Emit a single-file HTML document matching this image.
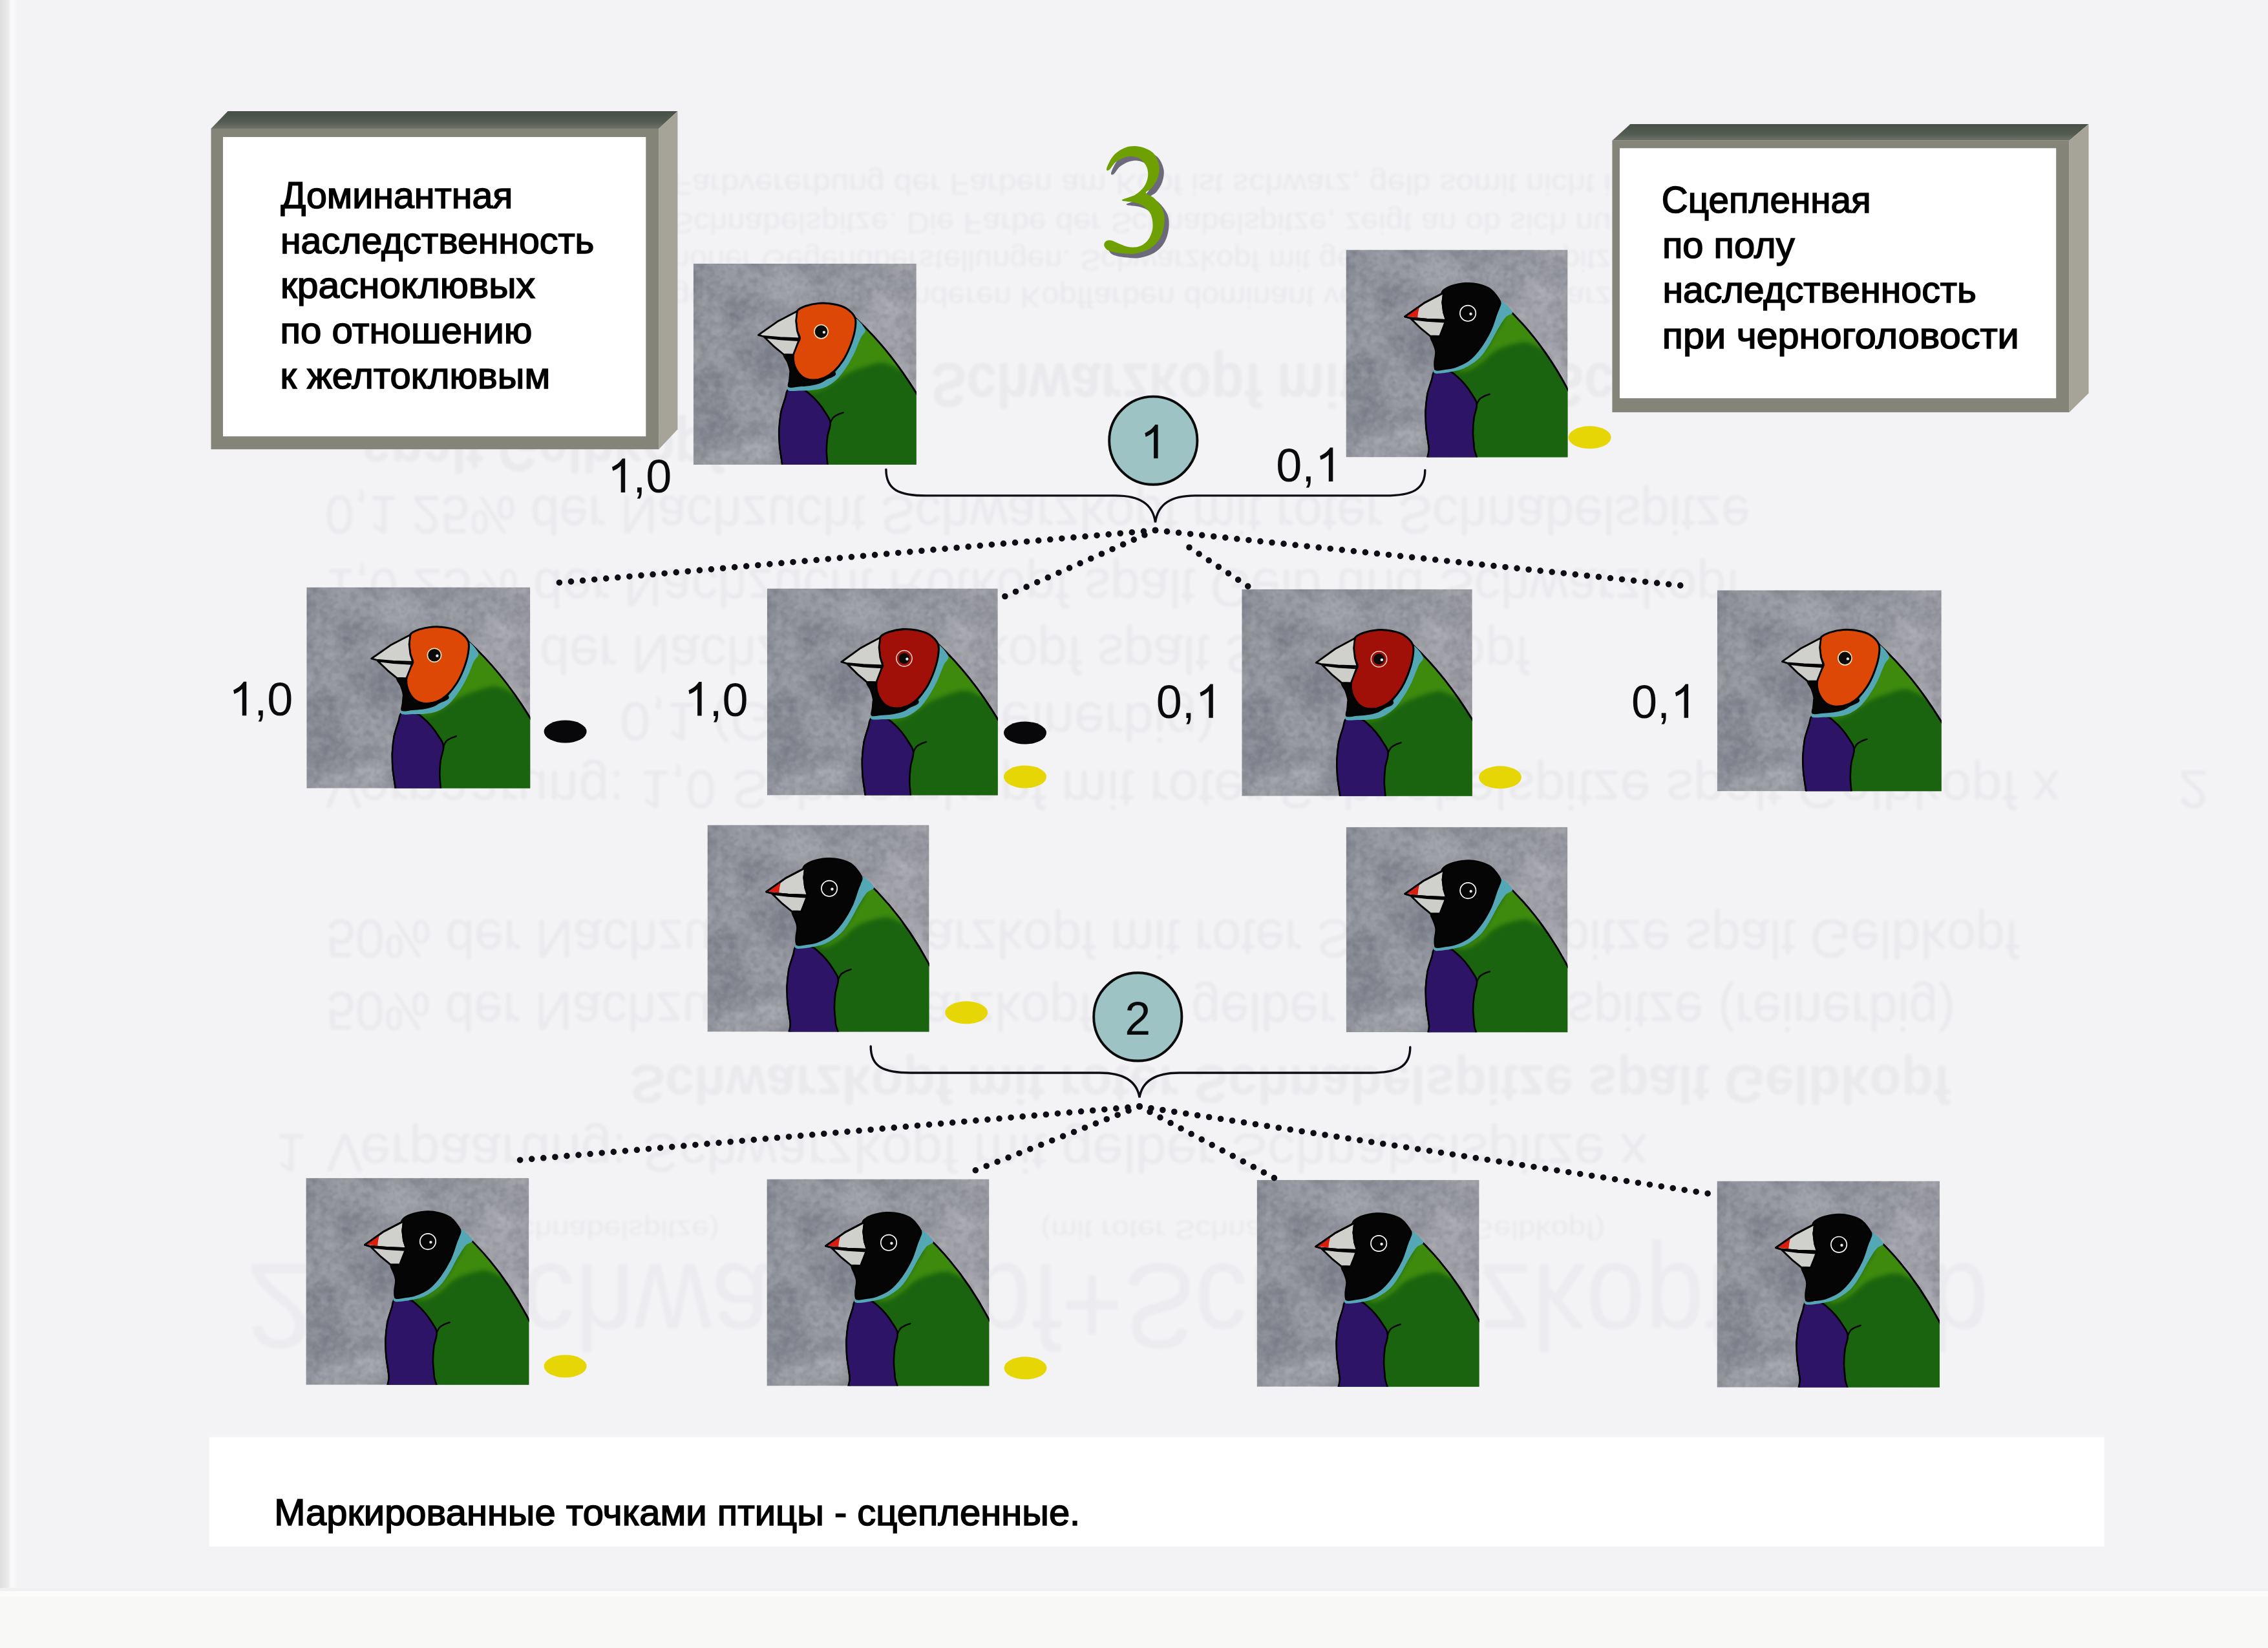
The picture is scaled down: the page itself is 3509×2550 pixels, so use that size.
<!DOCTYPE html>
<html><head><meta charset="utf-8"><title>3</title>
<style>html,body{margin:0;padding:0;background:#f3f3f6}body{width:3509px;height:2550px;overflow:hidden;position:relative}svg{position:absolute;left:0;top:0;display:block}text{font-family:"Liberation Sans",sans-serif}</style></head><body>
<svg width="3509" height="2550" viewBox="0 0 3509 2550">
<defs>
<filter id="mottle" x="0" y="0" width="100%" height="100%" color-interpolation-filters="sRGB"><feTurbulence type="fractalNoise" baseFrequency="0.012" numOctaves="2" seed="5" result="big"/><feColorMatrix in="big" type="matrix" values="0 0 0 0 1  0 0 0 0 1  0 0 0 0 1  0.4 0.4 0 0 -0.35" result="bl"/><feColorMatrix in="big" type="matrix" values="0 0 0 0 0.25  0 0 0 0 0.26  0 0 0 0 0.34  -0.4 0 -0.4 0 0.42" result="bd"/><feTurbulence type="fractalNoise" baseFrequency="0.09" numOctaves="2" seed="11" result="n"/><feColorMatrix in="n" type="matrix" values="0 0 0 0 0.85  0 0 0 0 0.85  0 0 0 0 0.9  0.25 0.25 0 0 -0.22" result="a"/><feColorMatrix in="n" type="matrix" values="0 0 0 0 0.3  0 0 0 0 0.3  0 0 0 0 0.36  -0.28 0 -0.28 0 0.3" result="d"/><feMerge><feMergeNode in="SourceGraphic"/><feMergeNode in="bl"/><feMergeNode in="bd"/><feMergeNode in="a"/><feMergeNode in="d"/></feMerge></filter>
<filter id="soft" x="-10%" y="-10%" width="120%" height="120%"><feGaussianBlur stdDeviation="3.5"/></filter>
<filter id="ghost" x="-5%" y="-20%" width="110%" height="140%"><feGaussianBlur stdDeviation="2"/></filter>
<linearGradient id="edgeL" x1="0" x2="1" y1="0" y2="0"><stop offset="0" stop-color="#dedede"/><stop offset="0.5" stop-color="#ececec"/><stop offset="0.62" stop-color="#f9f9f9"/><stop offset="0.8" stop-color="#f9f9fa"/><stop offset="1" stop-color="#f3f3f6"/></linearGradient>
<linearGradient id="bev" x1="0" x2="0" y1="0" y2="1"><stop offset="0" stop-color="#465048"/><stop offset="0.6" stop-color="#525c50"/><stop offset="1" stop-color="#6e7268"/></linearGradient>
<linearGradient id="gbg" x1="0" y1="0.1" x2="1" y2="0.5"><stop offset="0" stop-color="#7f828c"/><stop offset="0.45" stop-color="#8c8e97"/><stop offset="1" stop-color="#9b9ca3"/></linearGradient>
</defs>
<rect width="3509" height="2550" fill="#f3f3f6"/>
<rect x="0" y="0" width="26" height="2550" fill="url(#edgeL)"/>
<rect x="0" y="2460" width="3509" height="90" fill="#f8f8f7"/>
<rect x="0" y="2457" width="3509" height="5" fill="#f0f0f0"/>
<rect x="0" y="2462" width="3509" height="9" fill="#fbfbfb"/>
<g fill="#1a1a2a" opacity="0.042" filter="url(#ghost)">
<text transform="translate(1040,268.6) scale(1,-1)" font-size="47" textLength="1480" lengthAdjust="spacingAndGlyphs">Farbvererbung der Farben am Kopf ist schwarz, gelb somit nicht in</text>
<text transform="translate(1040,328.6) scale(1,-1)" font-size="47" textLength="1480" lengthAdjust="spacingAndGlyphs">Schnabelspitze. Die Farbe der Schnabelspitze, zeigt an ob sich nun</text>
<text transform="translate(1040,386.6) scale(1,-1)" font-size="47" textLength="1480" lengthAdjust="spacingAndGlyphs">hoher Gegenüberstellungen. Schwarzkopf mit gelber Schnabelspitze</text>
<text transform="translate(1040,443.6) scale(1,-1)" font-size="47" textLength="1480" lengthAdjust="spacingAndGlyphs">gegenüber den anderen Kopffarben dominant vererbt, der schwarze</text>
<text transform="translate(1440,562.4) scale(1,-1)" font-size="96" font-weight="bold" textLength="1560" lengthAdjust="spacingAndGlyphs">Schwarzkopf mit gelber Schnabelspitze</text>
<text transform="translate(560,662.4) scale(1,-1)" font-size="96" font-weight="bold" textLength="560" lengthAdjust="spacingAndGlyphs">spalt Gelbkopf</text>
<text transform="translate(503,767.6) scale(1,-1)" font-size="84" textLength="2205" lengthAdjust="spacingAndGlyphs">0,1 25% der Nachzucht Schwarzkopf mit roter Schnabelspitze</text>
<text transform="translate(503,880.6) scale(1,-1)" font-size="84" textLength="2190" lengthAdjust="spacingAndGlyphs">1,0 25% der Nachzucht Rotkopf spalt Gelb und Schwarzkopf</text>
<text transform="translate(835,983.6) scale(1,-1)" font-size="84" textLength="1532" lengthAdjust="spacingAndGlyphs">der Nachzucht Rotkopf spalt Schwarzkopf</text>
<text transform="translate(959,1087.6) scale(1,-1)" font-size="84" textLength="921" lengthAdjust="spacingAndGlyphs">0,1 (Gelbkopf, reinerbig)</text>
<text transform="translate(503,1192.6) scale(1,-1)" font-size="84" textLength="2684" lengthAdjust="spacingAndGlyphs">Verpaarung: 1,0 Schwarzkopf mit roter Schnabelspitze spalt Gelbkopf x</text>
<text transform="translate(3370,1192.6) scale(1,-1)" font-size="84">2</text>
<text transform="translate(505,1423.6) scale(1,-1)" font-size="84" textLength="2619" lengthAdjust="spacingAndGlyphs">50% der Nachzucht Schwarzkopf mit roter Schnabelspitze spalt Gelbkopf</text>
<text transform="translate(505,1535.6) scale(1,-1)" font-size="84" textLength="2520" lengthAdjust="spacingAndGlyphs">50% der Nachzucht Schwarzkopf mit gelber Schnabelspitze (reinerbig)</text>
<text transform="translate(975,1648.6) scale(1,-1)" font-size="84" font-weight="bold" textLength="2043" lengthAdjust="spacingAndGlyphs">Schwarzkopf mit roter Schnabelspitze spalt Gelbkopf</text>
<text transform="translate(426,1754.6) scale(1,-1)" font-size="84">1</text>
<text transform="translate(505,1754.6) scale(1,-1)" font-size="84" textLength="2044" lengthAdjust="spacingAndGlyphs">Verpaarung: Schwarzkopf mit gelber Schnabelspitze x</text>
<text transform="translate(531,1888.3) scale(1,-1)" font-size="42" textLength="582" lengthAdjust="spacingAndGlyphs">(mit gelber Schnabelspitze)</text>
<text transform="translate(1610,1888.3) scale(1,-1)" font-size="42" textLength="873" lengthAdjust="spacingAndGlyphs">(mit roter Schnabelspitze spalt Gelbkopf)</text>
</g>
<g fill="#1a1a2a" opacity="0.03" filter="url(#ghost)">
<text transform="translate(380,1956.2) scale(1,-1)" font-size="188">2</text>
<text transform="translate(697,1956.2) scale(1,-1)" font-size="188" textLength="2380" lengthAdjust="spacingAndGlyphs">Schwarzkopf+Schwarzkopf Gelb</text>
</g>
<rect x="323.7" y="2223.8" width="2932" height="169" fill="#ffffff"/>
<path d="M326.5,199 L352.5,172 L1048.4,172 L1019.3,199Z" fill="url(#bev)"/>
<path d="M1019.3,199 L1048.4,172 L1048.4,664.3 L1019.3,695.2Z" fill="#a6a498"/>
<rect x="326.5" y="199" width="692.8" height="496.20000000000005" fill="#848478"/>
<rect x="345" y="212" width="654.3" height="463.20000000000005" fill="#ffffff"/>
<path d="M2494.4,217.4 L2522.4,192 L3231.5,192 L3201.5,217.4Z" fill="url(#bev)"/>
<path d="M3201.5,217.4 L3231.5,192 L3231.5,608.6 L3201.5,637.9Z" fill="#a6a498"/>
<rect x="2494.4" y="217.4" width="707.0999999999999" height="420.5" fill="#848478"/>
<rect x="2506" y="229.3" width="675.1999999999998" height="386.90000000000003" fill="#ffffff"/>
<text x="434.4" y="322" font-size="57" font-weight="normal" textLength="359" lengthAdjust="spacingAndGlyphs" fill="#000" stroke="#000" stroke-width="1.6" stroke-linejoin="miter">Доминантная</text>
<text x="434" y="391.5" font-size="57" font-weight="normal" textLength="485.4" lengthAdjust="spacingAndGlyphs" fill="#000" stroke="#000" stroke-width="1.6" stroke-linejoin="miter">наследственность</text>
<text x="434" y="461.1" font-size="57" font-weight="normal" textLength="394" lengthAdjust="spacingAndGlyphs" fill="#000" stroke="#000" stroke-width="1.6" stroke-linejoin="miter">красноклювых</text>
<text x="433.5" y="531" font-size="57" font-weight="normal" textLength="390" lengthAdjust="spacingAndGlyphs" fill="#000" stroke="#000" stroke-width="1.6" stroke-linejoin="miter">по отношению</text>
<text x="433.5" y="600.5" font-size="57" font-weight="normal" textLength="417.7" lengthAdjust="spacingAndGlyphs" fill="#000" stroke="#000" stroke-width="1.6" stroke-linejoin="miter">к желтоклювым</text>
<text x="2570.8" y="328.5" font-size="57" font-weight="normal" textLength="323.8" lengthAdjust="spacingAndGlyphs" fill="#000" stroke="#000" stroke-width="1.6" stroke-linejoin="miter">Сцепленная</text>
<text x="2571.9" y="398.6" font-size="57" font-weight="normal" textLength="204.7" lengthAdjust="spacingAndGlyphs" fill="#000" stroke="#000" stroke-width="1.6" stroke-linejoin="miter">по полу</text>
<text x="2572.4" y="468" font-size="57" font-weight="normal" textLength="485.4" lengthAdjust="spacingAndGlyphs" fill="#000" stroke="#000" stroke-width="1.6" stroke-linejoin="miter">наследственность</text>
<text x="2571.8" y="538.5" font-size="57" font-weight="normal" textLength="552" lengthAdjust="spacingAndGlyphs" fill="#000" stroke="#000" stroke-width="1.6" stroke-linejoin="miter">при черноголовости</text>
<text x="424.2" y="2360" font-size="57" font-weight="normal" textLength="1247" lengthAdjust="spacingAndGlyphs" fill="#000" stroke="#000" stroke-width="1.6" stroke-linejoin="miter">Маркированные точками птицы - сцепленные.</text>
<g transform="translate(1650,180)"><path d="M62.2,80.4 C63.3,76.7 68.0,66.0 72.8,60.7 C77.6,55.4 84.4,50.9 91.0,48.5 C97.6,46.2 105.2,45.5 112.3,46.7 C119.3,48.0 128.3,51.3 133.5,56.1 C138.7,61.0 142.1,69.3 143.4,75.8 C144.6,82.4 143.0,89.8 141.1,95.6 C139.2,101.4 135.0,106.9 132.0,110.7 C128.9,114.6 122.1,115.8 122.9,118.6 C123.6,121.4 132.1,122.9 136.5,127.4 C141.0,131.9 147.0,139.1 149.4,145.6 C151.9,152.2 152.1,159.5 151.2,166.9 C150.4,174.2 147.8,183.3 144.1,189.6 C140.4,195.9 135.3,201.0 128.9,204.8 C122.6,208.6 113.8,211.2 106.2,212.4 C98.6,213.5 90.3,212.5 83.4,211.8 C76.6,211.0 69.4,209.7 65.2,207.8 C61.1,205.9 59.2,202.6 58.4,200.2 C57.6,197.8 58.9,194.8 60.7,193.4 C62.4,192.0 65.5,191.3 69.0,191.9 C72.6,192.5 77.0,195.4 81.9,197.2 C86.8,199.0 93.0,202.0 98.6,202.5 C104.2,203.0 110.5,202.4 115.3,200.2 C120.1,198.1 124.4,194.4 127.4,189.6 C130.5,184.8 133.0,177.7 133.5,171.4 C134.0,165.1 132.7,157.0 130.5,151.7 C128.2,146.4 123.9,142.6 119.8,139.6 C115.8,136.5 111.9,135.1 106.2,133.5 C100.5,131.9 85.7,131.7 85.7,129.7 C85.7,127.7 100.5,124.8 106.2,121.4 C111.9,117.9 116.6,113.8 119.8,109.2 C123.1,104.7 125.2,99.1 125.9,94.1 C126.7,89.0 126.2,83.4 124.4,78.9 C122.6,74.3 118.8,69.5 115.3,66.7 C111.8,64.0 107.5,62.7 103.2,62.2 C98.9,61.7 94.1,62.2 89.5,63.7 C85.0,65.2 79.8,68.1 75.8,71.3 C71.9,74.5 68.3,81.6 66.0,83.1 C63.7,84.6 61.1,84.1 62.2,80.4Z" fill="#6c697d" transform="translate(7,6.5)"/><path d="M62.2,80.4 C63.3,76.7 68.0,66.0 72.8,60.7 C77.6,55.4 84.4,50.9 91.0,48.5 C97.6,46.2 105.2,45.5 112.3,46.7 C119.3,48.0 128.3,51.3 133.5,56.1 C138.7,61.0 142.1,69.3 143.4,75.8 C144.6,82.4 143.0,89.8 141.1,95.6 C139.2,101.4 135.0,106.9 132.0,110.7 C128.9,114.6 122.1,115.8 122.9,118.6 C123.6,121.4 132.1,122.9 136.5,127.4 C141.0,131.9 147.0,139.1 149.4,145.6 C151.9,152.2 152.1,159.5 151.2,166.9 C150.4,174.2 147.8,183.3 144.1,189.6 C140.4,195.9 135.3,201.0 128.9,204.8 C122.6,208.6 113.8,211.2 106.2,212.4 C98.6,213.5 90.3,212.5 83.4,211.8 C76.6,211.0 69.4,209.7 65.2,207.8 C61.1,205.9 59.2,202.6 58.4,200.2 C57.6,197.8 58.9,194.8 60.7,193.4 C62.4,192.0 65.5,191.3 69.0,191.9 C72.6,192.5 77.0,195.4 81.9,197.2 C86.8,199.0 93.0,202.0 98.6,202.5 C104.2,203.0 110.5,202.4 115.3,200.2 C120.1,198.1 124.4,194.4 127.4,189.6 C130.5,184.8 133.0,177.7 133.5,171.4 C134.0,165.1 132.7,157.0 130.5,151.7 C128.2,146.4 123.9,142.6 119.8,139.6 C115.8,136.5 111.9,135.1 106.2,133.5 C100.5,131.9 85.7,131.7 85.7,129.7 C85.7,127.7 100.5,124.8 106.2,121.4 C111.9,117.9 116.6,113.8 119.8,109.2 C123.1,104.7 125.2,99.1 125.9,94.1 C126.7,89.0 126.2,83.4 124.4,78.9 C122.6,74.3 118.8,69.5 115.3,66.7 C111.8,64.0 107.5,62.7 103.2,62.2 C98.9,61.7 94.1,62.2 89.5,63.7 C85.0,65.2 79.8,68.1 75.8,71.3 C71.9,74.5 68.3,81.6 66.0,83.1 C63.7,84.6 61.1,84.1 62.2,80.4Z" fill="#6ea002"/></g>
<g id="birds">
<clipPath id="c0"><rect x="0" y="0" width="345.0" height="311.0"/></clipPath>
<g transform="translate(1072.8,408.0)" clip-path="url(#c0)" stroke-linejoin="round" stroke-linecap="round">
<rect x="0" y="0" width="345.0" height="311.0" fill="url(#gbg)" filter="url(#mottle)"/>
<path transform="translate(0,0) scale(1.0,1.0)" d="M250.1,83.7 Q302.3,131.4 344.7,200.0 L429.5,337.2 L429.5,420 L139.8,420 L137.8,313.5 L133.5,282.9 L132.6,256.7 L135.4,230.5 L142.0,208.6 L147.5,194.2 L149.6,169.3 L195.5,125.6Z" fill="#1a6410" stroke="#000" stroke-width="2.6"/>
<clipPath id="b0"><path transform="translate(0,0) scale(1.0,1.0)" d="M250.1,83.7 Q302.3,131.4 344.7,200.0 L429.5,337.2 L429.5,420 L139.8,420 L137.8,313.5 L133.5,282.9 L132.6,256.7 L135.4,230.5 L142.0,208.6 L147.5,194.2 L149.6,169.3 L195.5,125.6Z"/></clipPath>
<g clip-path="url(#b0)"><path transform="translate(0,0) scale(1.0,1.0)" d="M254.5,68.8 C268.0,78.3 328.8,150.8 335.3,164.9 C341.9,179.1 306.2,154.2 293.8,153.6 C281.4,152.9 270.5,158.2 261.1,161.0 C251.6,163.8 243.6,167.2 237.0,170.4 C230.5,173.6 227.6,176.5 221.7,180.2 C215.9,184.0 208.3,189.9 202.1,192.9 C195.9,195.9 190.1,197.9 184.6,198.1 C179.1,198.4 167.5,195.8 169.3,194.6 C171.1,193.5 188.2,193.6 195.5,191.2 C202.8,188.7 207.5,184.6 213.0,180.2 C218.5,175.9 223.9,170.4 228.3,164.9 C232.7,159.5 235.9,154.0 239.2,147.5 C242.5,140.9 245.4,132.2 248.0,125.6 C250.5,119.1 253.4,117.6 254.5,108.1 C255.6,98.7 241.0,59.3 254.5,68.8Z" fill="#3e8a0c" filter="url(#soft)"/></g>
<path transform="translate(0,0) scale(1.0,1.0)" d="M250.1,83.7 Q302.3,131.4 344.7,200.0 L429.5,337.2" fill="none" stroke="#000" stroke-width="2.6"/>
<path transform="translate(0,0) scale(1.0,1.0)" d="M147.5,194.2 C142.9,196.5 144.0,202.6 142.0,208.6 C140.0,214.7 137.0,222.5 135.4,230.5 C133.9,238.5 132.9,248.0 132.6,256.7 C132.3,265.4 132.6,273.4 133.5,282.9 C134.4,292.4 136.8,303.3 137.8,313.5 C138.9,323.7 128.0,339.0 139.8,344.1 C151.6,349.2 197.3,349.2 208.6,344.1 C220.0,339.0 208.2,322.6 207.8,313.5 C207.3,304.4 206.0,297.1 206.0,289.5 C206.0,281.8 206.6,274.9 207.5,267.6 C208.5,260.3 212.5,252.0 211.9,245.8 C211.4,239.6 207.4,235.6 204.3,230.5 C201.2,225.4 197.3,219.9 193.3,215.2 C189.3,210.4 184.2,205.4 180.2,202.1 C176.2,198.7 174.8,196.4 169.3,195.1 C163.8,193.8 152.0,192.0 147.5,194.2Z" fill="#2e1466" stroke="#000" stroke-width="2.6"/>
<path transform="translate(0,0) scale(1.0,1.0)" d="M211.9,245.8 C212.6,244.5 214.5,240.1 216.3,238.1 C218.1,236.1 220.3,235.0 222.8,233.8 C225.4,232.5 230.1,231.0 231.6,230.5" fill="none" stroke="#000" stroke-width="2.4"/>
<path transform="translate(0,0) scale(1.0,1.0)" d="M265.9,102.0 C267.2,107.1 261.9,108.5 258.9,114.9 C255.9,121.3 251.9,132.6 248.0,140.5 C244.0,148.4 239.8,155.7 235.3,162.3 C230.7,168.9 226.1,175.3 220.6,180.2 C215.2,185.1 208.6,189.2 202.5,191.8 C196.4,194.4 190.1,195.0 184.2,195.7 C178.3,196.5 173.2,196.3 167.1,196.4 C161.0,196.5 150.7,197.6 147.5,196.4 C144.2,195.2 144.9,190.6 147.5,189.4 C150.0,188.2 156.6,189.3 162.8,189.0 C168.9,188.7 177.5,188.9 184.2,187.7 C190.8,186.4 197.1,184.1 202.5,181.3 C208.0,178.6 212.3,176.2 216.9,171.3 C221.6,166.4 226.4,158.7 230.5,151.8 C234.6,144.9 238.3,138.0 241.4,130.0 C244.5,122.0 247.5,111.3 249.0,103.8 C250.6,96.2 247.8,84.8 250.6,84.5 C253.4,84.3 264.5,97.0 265.9,102.0Z" fill="#54a8b6"/>
<path transform="translate(0,0) scale(1.0,1.0)" d="M139.8,140.5 C141.6,138.5 143.3,136.5 156.2,140.9 C169.1,145.3 209.4,160.8 217.4,167.1 C225.4,173.5 207.9,176.3 204.3,179.1 C200.6,182.0 199.5,182.7 195.5,184.2 C191.5,185.6 185.7,187.0 180.2,187.9 C174.8,188.7 168.2,189.0 162.8,189.4 C157.3,189.8 149.7,192.2 147.5,190.3 C145.2,188.4 148.8,181.9 149.2,178.0 C149.6,174.2 150.2,171.3 149.6,167.1 C149.1,162.9 147.4,157.4 145.7,152.9 C144.1,148.5 138.1,142.5 139.8,140.5Z" fill="#050505" stroke="#050505" stroke-width="2"/>
<path transform="translate(0,0) scale(1.0,1.0)" d="M160.6,73.2 C163.0,69.4 167.8,67.5 173.7,65.5 C179.5,63.5 188.2,61.6 195.5,61.2 C202.8,60.7 210.6,61.4 217.4,62.7 C224.1,64.0 230.5,65.3 235.9,68.8 C241.4,72.3 247.8,77.8 250.1,83.7 C252.4,89.5 251.0,96.4 249.7,103.8 C248.4,111.1 245.5,120.2 242.5,127.8 C239.5,135.4 235.8,143.2 231.6,149.6 C227.4,156.1 222.3,162.2 217.4,166.7 C212.5,171.2 207.5,174.5 202.1,176.7 C196.6,179.0 190.1,180.2 184.6,180.0 C179.1,179.8 173.7,178.4 169.3,175.4 C164.9,172.4 160.9,166.9 158.4,161.9 C155.9,156.9 154.6,150.6 154.5,145.3 C154.3,140.0 155.6,134.9 157.3,130.0 C159.0,125.1 164.0,120.2 164.5,115.8 C165.0,111.4 161.5,108.3 160.6,103.8 C159.6,99.2 158.8,93.6 158.8,88.5 C158.8,83.4 158.1,77.0 160.6,73.2Z" fill="#de4806" stroke="#000" stroke-width="3"/>
<path transform="translate(0,0) scale(1.0,1.0)" d="M109.9,113.8 L134.4,116.9 L163.2,118.6 L158.8,130.0 L154.5,140.9 L139.8,140.5 L125.6,128.9Z" fill="#cdcdca" stroke="#000" stroke-width="2.8"/>
<path transform="translate(0,0) scale(1.0,1.0)" d="M100.5,110.3 L130.0,89.6 L160.6,73.6 L158.8,88.5 L160.6,103.8 L164.5,115.8 L134.4,114.7 L108.1,112.5Z" fill="#d0d0cd" stroke="#000" stroke-width="2.8"/>
<circle cx="197.7" cy="105.1" r="10.6" fill="#0a0a0a" stroke="#f3e6c0" stroke-width="1.6"/>
<circle cx="202.1" cy="106.1" r="2.2" fill="#e8e8e8"/>
</g>
<clipPath id="c1"><rect x="0" y="0" width="343.0" height="321.0"/></clipPath>
<g transform="translate(2082.5,386.5)" clip-path="url(#c1)" stroke-linejoin="round" stroke-linecap="round">
<rect x="0" y="0" width="343.0" height="321.0" fill="url(#gbg)" filter="url(#mottle)"/>
<path transform="translate(-9.5,-7) scale(1.0,1.0)" d="M247.8,86.8 Q309.1,141.8 351.0,220.0 L434.8,376.4 L434.8,420 L139.8,420 L137.8,313.5 L133.5,282.9 L132.6,256.7 L135.4,230.5 L142.0,208.6 L147.5,194.2 L149.6,169.3 L195.5,125.6Z" fill="#1a6410" stroke="#000" stroke-width="2.6"/>
<clipPath id="b1"><path transform="translate(-9.5,-7) scale(1.0,1.0)" d="M247.8,86.8 Q309.1,141.8 351.0,220.0 L434.8,376.4 L434.8,420 L139.8,420 L137.8,313.5 L133.5,282.9 L132.6,256.7 L135.4,230.5 L142.0,208.6 L147.5,194.2 L149.6,169.3 L195.5,125.6Z"/></clipPath>
<g clip-path="url(#b1)"><path d="M246.0,58.0 C257.5,65.3 306.7,135.8 312.0,150.0 C317.3,164.2 288.8,142.9 277.8,142.9 C266.8,142.9 254.6,147.0 246.0,149.8 C237.4,152.7 231.3,156.5 226.0,160.0 C220.7,163.5 219.0,167.1 214.0,171.0 C209.0,174.9 201.7,180.6 196.0,183.5 C190.3,186.4 184.3,188.1 180.0,188.5 C175.7,188.9 168.3,187.8 170.0,186.0 C171.7,184.2 183.8,181.5 190.0,178.0 C196.2,174.5 201.8,170.3 207.0,165.0 C212.2,159.7 216.8,152.5 221.0,146.0 C225.2,139.5 228.3,132.7 232.0,126.0 C235.7,119.3 240.7,117.3 243.0,106.0 C245.3,94.7 234.5,50.7 246.0,58.0Z" fill="#3e8a0c" filter="url(#soft)"/></g>
<path transform="translate(-9.5,-7) scale(1.0,1.0)" d="M247.8,86.8 Q309.1,141.8 351.0,220.0 L434.8,376.4" fill="none" stroke="#000" stroke-width="2.6"/>
<path transform="translate(-9.5,-7) scale(1.0,1.0)" d="M147.5,194.2 C142.9,196.5 144.0,202.6 142.0,208.6 C140.0,214.7 137.0,222.5 135.4,230.5 C133.9,238.5 132.9,248.0 132.6,256.7 C132.3,265.4 132.6,273.4 133.5,282.9 C134.4,292.4 136.8,303.3 137.8,313.5 C138.9,323.7 128.0,339.0 139.8,344.1 C151.6,349.2 197.3,349.2 208.6,344.1 C220.0,339.0 208.2,322.6 207.8,313.5 C207.3,304.4 206.0,297.1 206.0,289.5 C206.0,281.8 206.6,274.9 207.5,267.6 C208.5,260.3 212.5,252.0 211.9,245.8 C211.4,239.6 207.4,235.6 204.3,230.5 C201.2,225.4 197.3,219.9 193.3,215.2 C189.3,210.4 184.2,205.4 180.2,202.1 C176.2,198.7 174.8,196.4 169.3,195.1 C163.8,193.8 152.0,192.0 147.5,194.2Z" fill="#2e1466" stroke="#000" stroke-width="2.6"/>
<path transform="translate(-9.5,-7) scale(1.0,1.0)" d="M211.9,245.8 C212.6,244.5 214.5,240.1 216.3,238.1 C218.1,236.1 220.3,235.0 222.8,233.8 C225.4,232.5 230.1,231.0 231.6,230.5" fill="none" stroke="#000" stroke-width="2.4"/>
<path d="M257.5,96.0 C258.9,100.3 250.6,100.0 246.5,105.0 C242.4,110.0 237.1,119.1 233.0,126.0 C228.9,132.9 226.2,139.6 221.8,146.5 C217.4,153.4 213.0,161.4 206.5,167.5 C200.0,173.6 190.8,179.7 183.0,183.3 C175.2,186.9 167.4,188.0 160.0,189.3 C152.6,190.6 142.1,191.9 138.5,191.2 C134.9,190.5 133.3,186.8 138.5,185.0 C143.7,183.2 160.9,182.9 169.5,180.5 C178.1,178.1 183.5,175.2 189.9,170.3 C196.3,165.4 202.1,158.8 207.7,151.2 C213.3,143.6 219.3,133.4 223.6,124.5 C227.8,115.6 230.8,105.6 233.2,98.0 C235.6,90.4 233.9,79.3 238.0,79.0 C242.1,78.7 256.1,91.7 257.5,96.0Z" fill="#54a8b6"/>
<path d="M149.1,64.5 C151.8,60.5 157.1,58.1 163.0,56.0 C168.9,53.9 177.8,52.2 184.8,51.8 C191.8,51.4 198.5,51.9 205.0,53.5 C211.5,55.1 218.4,57.1 224.0,61.5 C229.6,65.9 236.2,75.0 238.3,79.8 C240.4,84.5 237.3,86.9 236.5,90.0 C235.7,93.1 235.3,92.5 233.2,98.3 C231.0,104.1 227.8,116.2 223.6,125.1 C219.3,134.0 213.3,144.2 207.7,151.8 C202.1,159.4 196.3,166.0 189.9,170.9 C183.5,175.8 175.8,178.8 169.5,181.1 C163.2,183.4 157.1,183.8 152.0,184.5 C146.9,185.2 141.4,187.2 138.9,185.6 C136.4,184.0 137.0,179.6 137.0,175.0 C137.0,170.4 139.2,163.0 138.9,158.2 C138.7,153.4 136.8,149.9 135.5,146.0 C134.2,142.1 130.0,136.5 131.2,134.5 C132.4,132.5 140.1,136.4 142.7,134.0 C145.3,131.6 145.7,124.0 147.0,120.0 C148.3,116.0 150.2,114.0 150.3,109.8 C150.4,105.6 148.1,100.0 147.5,95.0 C146.9,90.0 146.2,85.1 146.5,80.0 C146.8,74.9 146.3,68.5 149.1,64.5Z" fill="#050505" stroke="#000" stroke-width="2.4"/>
<path transform="translate(-9.5,-7) scale(1.0,1.0)" d="M109.9,113.8 L134.4,116.9 L163.2,118.6 L158.8,130.0 L154.5,140.9 L139.8,140.5 L125.6,128.9Z" fill="#cdcdca" stroke="#000" stroke-width="2.8"/>
<path transform="translate(-9.5,-7) scale(1.0,1.0)" d="M100.5,110.3 L130.0,89.6 L160.6,73.6 L158.8,88.5 L160.6,103.8 L164.5,115.8 L134.4,114.7 L108.1,112.5Z" fill="#d0d0cd" stroke="#000" stroke-width="2.8"/>
<path transform="translate(-9.5,-7) scale(1.0,1.0)" d="M103.3,109.9 L113.6,102.5 L123.0,95.7 L121.2,103.8 L120.2,111.9Z" fill="#dc1c0c"/>
<path transform="translate(-9.5,-7) scale(1.0,1.0)" d="M100.5,110.3 L130.0,89.6 L160.6,73.6 L158.8,88.5 L160.6,103.8 L164.5,115.8 L134.4,114.7 L108.1,112.5Z" fill="none" stroke="#000" stroke-width="2.8"/>
<circle cx="188.6" cy="98.3" r="12.2" fill="#050505" stroke="#ffffff" stroke-width="1.7"/>
<circle cx="193.0" cy="99.3" r="2.2" fill="#e8e8e8"/>
</g>
<clipPath id="c2"><rect x="0" y="0" width="346.0" height="311.0"/></clipPath>
<g transform="translate(474.3,908.7)" clip-path="url(#c2)" stroke-linejoin="round" stroke-linecap="round">
<rect x="0" y="0" width="346.0" height="311.0" fill="url(#gbg)" filter="url(#mottle)"/>
<path transform="translate(0,0) scale(1.0,1.0)" d="M250.1,83.7 Q302.3,131.4 344.7,200.0 L429.5,337.2 L429.5,420 L139.8,420 L137.8,313.5 L133.5,282.9 L132.6,256.7 L135.4,230.5 L142.0,208.6 L147.5,194.2 L149.6,169.3 L195.5,125.6Z" fill="#1a6410" stroke="#000" stroke-width="2.6"/>
<clipPath id="b2"><path transform="translate(0,0) scale(1.0,1.0)" d="M250.1,83.7 Q302.3,131.4 344.7,200.0 L429.5,337.2 L429.5,420 L139.8,420 L137.8,313.5 L133.5,282.9 L132.6,256.7 L135.4,230.5 L142.0,208.6 L147.5,194.2 L149.6,169.3 L195.5,125.6Z"/></clipPath>
<g clip-path="url(#b2)"><path transform="translate(0,0) scale(1.0,1.0)" d="M254.5,68.8 C268.0,78.3 328.8,150.8 335.3,164.9 C341.9,179.1 306.2,154.2 293.8,153.6 C281.4,152.9 270.5,158.2 261.1,161.0 C251.6,163.8 243.6,167.2 237.0,170.4 C230.5,173.6 227.6,176.5 221.7,180.2 C215.9,184.0 208.3,189.9 202.1,192.9 C195.9,195.9 190.1,197.9 184.6,198.1 C179.1,198.4 167.5,195.8 169.3,194.6 C171.1,193.5 188.2,193.6 195.5,191.2 C202.8,188.7 207.5,184.6 213.0,180.2 C218.5,175.9 223.9,170.4 228.3,164.9 C232.7,159.5 235.9,154.0 239.2,147.5 C242.5,140.9 245.4,132.2 248.0,125.6 C250.5,119.1 253.4,117.6 254.5,108.1 C255.6,98.7 241.0,59.3 254.5,68.8Z" fill="#3e8a0c" filter="url(#soft)"/></g>
<path transform="translate(0,0) scale(1.0,1.0)" d="M250.1,83.7 Q302.3,131.4 344.7,200.0 L429.5,337.2" fill="none" stroke="#000" stroke-width="2.6"/>
<path transform="translate(0,0) scale(1.0,1.0)" d="M147.5,194.2 C142.9,196.5 144.0,202.6 142.0,208.6 C140.0,214.7 137.0,222.5 135.4,230.5 C133.9,238.5 132.9,248.0 132.6,256.7 C132.3,265.4 132.6,273.4 133.5,282.9 C134.4,292.4 136.8,303.3 137.8,313.5 C138.9,323.7 128.0,339.0 139.8,344.1 C151.6,349.2 197.3,349.2 208.6,344.1 C220.0,339.0 208.2,322.6 207.8,313.5 C207.3,304.4 206.0,297.1 206.0,289.5 C206.0,281.8 206.6,274.9 207.5,267.6 C208.5,260.3 212.5,252.0 211.9,245.8 C211.4,239.6 207.4,235.6 204.3,230.5 C201.2,225.4 197.3,219.9 193.3,215.2 C189.3,210.4 184.2,205.4 180.2,202.1 C176.2,198.7 174.8,196.4 169.3,195.1 C163.8,193.8 152.0,192.0 147.5,194.2Z" fill="#2e1466" stroke="#000" stroke-width="2.6"/>
<path transform="translate(0,0) scale(1.0,1.0)" d="M211.9,245.8 C212.6,244.5 214.5,240.1 216.3,238.1 C218.1,236.1 220.3,235.0 222.8,233.8 C225.4,232.5 230.1,231.0 231.6,230.5" fill="none" stroke="#000" stroke-width="2.4"/>
<path transform="translate(0,0) scale(1.0,1.0)" d="M265.9,102.0 C267.2,107.1 261.9,108.5 258.9,114.9 C255.9,121.3 251.9,132.6 248.0,140.5 C244.0,148.4 239.8,155.7 235.3,162.3 C230.7,168.9 226.1,175.3 220.6,180.2 C215.2,185.1 208.6,189.2 202.5,191.8 C196.4,194.4 190.1,195.0 184.2,195.7 C178.3,196.5 173.2,196.3 167.1,196.4 C161.0,196.5 150.7,197.6 147.5,196.4 C144.2,195.2 144.9,190.6 147.5,189.4 C150.0,188.2 156.6,189.3 162.8,189.0 C168.9,188.7 177.5,188.9 184.2,187.7 C190.8,186.4 197.1,184.1 202.5,181.3 C208.0,178.6 212.3,176.2 216.9,171.3 C221.6,166.4 226.4,158.7 230.5,151.8 C234.6,144.9 238.3,138.0 241.4,130.0 C244.5,122.0 247.5,111.3 249.0,103.8 C250.6,96.2 247.8,84.8 250.6,84.5 C253.4,84.3 264.5,97.0 265.9,102.0Z" fill="#54a8b6"/>
<path transform="translate(0,0) scale(1.0,1.0)" d="M139.8,140.5 C141.6,138.5 143.3,136.5 156.2,140.9 C169.1,145.3 209.4,160.8 217.4,167.1 C225.4,173.5 207.9,176.3 204.3,179.1 C200.6,182.0 199.5,182.7 195.5,184.2 C191.5,185.6 185.7,187.0 180.2,187.9 C174.8,188.7 168.2,189.0 162.8,189.4 C157.3,189.8 149.7,192.2 147.5,190.3 C145.2,188.4 148.8,181.9 149.2,178.0 C149.6,174.2 150.2,171.3 149.6,167.1 C149.1,162.9 147.4,157.4 145.7,152.9 C144.1,148.5 138.1,142.5 139.8,140.5Z" fill="#050505" stroke="#050505" stroke-width="2"/>
<path transform="translate(0,0) scale(1.0,1.0)" d="M160.6,73.2 C163.0,69.4 167.8,67.5 173.7,65.5 C179.5,63.5 188.2,61.6 195.5,61.2 C202.8,60.7 210.6,61.4 217.4,62.7 C224.1,64.0 230.5,65.3 235.9,68.8 C241.4,72.3 247.8,77.8 250.1,83.7 C252.4,89.5 251.0,96.4 249.7,103.8 C248.4,111.1 245.5,120.2 242.5,127.8 C239.5,135.4 235.8,143.2 231.6,149.6 C227.4,156.1 222.3,162.2 217.4,166.7 C212.5,171.2 207.5,174.5 202.1,176.7 C196.6,179.0 190.1,180.2 184.6,180.0 C179.1,179.8 173.7,178.4 169.3,175.4 C164.9,172.4 160.9,166.9 158.4,161.9 C155.9,156.9 154.6,150.6 154.5,145.3 C154.3,140.0 155.6,134.9 157.3,130.0 C159.0,125.1 164.0,120.2 164.5,115.8 C165.0,111.4 161.5,108.3 160.6,103.8 C159.6,99.2 158.8,93.6 158.8,88.5 C158.8,83.4 158.1,77.0 160.6,73.2Z" fill="#de4806" stroke="#000" stroke-width="3"/>
<path transform="translate(0,0) scale(1.0,1.0)" d="M109.9,113.8 L134.4,116.9 L163.2,118.6 L158.8,130.0 L154.5,140.9 L139.8,140.5 L125.6,128.9Z" fill="#cdcdca" stroke="#000" stroke-width="2.8"/>
<path transform="translate(0,0) scale(1.0,1.0)" d="M100.5,110.3 L130.0,89.6 L160.6,73.6 L158.8,88.5 L160.6,103.8 L164.5,115.8 L134.4,114.7 L108.1,112.5Z" fill="#d0d0cd" stroke="#000" stroke-width="2.8"/>
<circle cx="197.7" cy="105.1" r="10.6" fill="#0a0a0a" stroke="#f3e6c0" stroke-width="1.6"/>
<circle cx="202.1" cy="106.1" r="2.2" fill="#e8e8e8"/>
</g>
<clipPath id="c3"><rect x="0" y="0" width="357.0" height="320.0"/></clipPath>
<g transform="translate(1186.8,910.6)" clip-path="url(#c3)" stroke-linejoin="round" stroke-linecap="round">
<rect x="0" y="0" width="357.0" height="320.0" fill="url(#gbg)" filter="url(#mottle)"/>
<path transform="translate(14.5,0) scale(1.0,1.03)" d="M250.1,83.7 Q302.3,131.4 344.7,200.0 L429.5,337.2 L429.5,420 L139.8,420 L137.8,313.5 L133.5,282.9 L132.6,256.7 L135.4,230.5 L142.0,208.6 L147.5,194.2 L149.6,169.3 L195.5,125.6Z" fill="#1a6410" stroke="#000" stroke-width="2.6"/>
<clipPath id="b3"><path transform="translate(14.5,0) scale(1.0,1.03)" d="M250.1,83.7 Q302.3,131.4 344.7,200.0 L429.5,337.2 L429.5,420 L139.8,420 L137.8,313.5 L133.5,282.9 L132.6,256.7 L135.4,230.5 L142.0,208.6 L147.5,194.2 L149.6,169.3 L195.5,125.6Z"/></clipPath>
<g clip-path="url(#b3)"><path transform="translate(14.5,0) scale(1.0,1.03)" d="M254.5,68.8 C268.0,78.3 328.8,150.8 335.3,164.9 C341.9,179.1 306.2,154.2 293.8,153.6 C281.4,152.9 270.5,158.2 261.1,161.0 C251.6,163.8 243.6,167.2 237.0,170.4 C230.5,173.6 227.6,176.5 221.7,180.2 C215.9,184.0 208.3,189.9 202.1,192.9 C195.9,195.9 190.1,197.9 184.6,198.1 C179.1,198.4 167.5,195.8 169.3,194.6 C171.1,193.5 188.2,193.6 195.5,191.2 C202.8,188.7 207.5,184.6 213.0,180.2 C218.5,175.9 223.9,170.4 228.3,164.9 C232.7,159.5 235.9,154.0 239.2,147.5 C242.5,140.9 245.4,132.2 248.0,125.6 C250.5,119.1 253.4,117.6 254.5,108.1 C255.6,98.7 241.0,59.3 254.5,68.8Z" fill="#3e8a0c" filter="url(#soft)"/></g>
<path transform="translate(14.5,0) scale(1.0,1.03)" d="M250.1,83.7 Q302.3,131.4 344.7,200.0 L429.5,337.2" fill="none" stroke="#000" stroke-width="2.6"/>
<path transform="translate(14.5,0) scale(1.0,1.03)" d="M147.5,194.2 C142.9,196.5 144.0,202.6 142.0,208.6 C140.0,214.7 137.0,222.5 135.4,230.5 C133.9,238.5 132.9,248.0 132.6,256.7 C132.3,265.4 132.6,273.4 133.5,282.9 C134.4,292.4 136.8,303.3 137.8,313.5 C138.9,323.7 128.0,339.0 139.8,344.1 C151.6,349.2 197.3,349.2 208.6,344.1 C220.0,339.0 208.2,322.6 207.8,313.5 C207.3,304.4 206.0,297.1 206.0,289.5 C206.0,281.8 206.6,274.9 207.5,267.6 C208.5,260.3 212.5,252.0 211.9,245.8 C211.4,239.6 207.4,235.6 204.3,230.5 C201.2,225.4 197.3,219.9 193.3,215.2 C189.3,210.4 184.2,205.4 180.2,202.1 C176.2,198.7 174.8,196.4 169.3,195.1 C163.8,193.8 152.0,192.0 147.5,194.2Z" fill="#2e1466" stroke="#000" stroke-width="2.6"/>
<path transform="translate(14.5,0) scale(1.0,1.03)" d="M211.9,245.8 C212.6,244.5 214.5,240.1 216.3,238.1 C218.1,236.1 220.3,235.0 222.8,233.8 C225.4,232.5 230.1,231.0 231.6,230.5" fill="none" stroke="#000" stroke-width="2.4"/>
<path transform="translate(14.5,0) scale(1.0,1.03)" d="M265.9,102.0 C267.2,107.1 261.9,108.5 258.9,114.9 C255.9,121.3 251.9,132.6 248.0,140.5 C244.0,148.4 239.8,155.7 235.3,162.3 C230.7,168.9 226.1,175.3 220.6,180.2 C215.2,185.1 208.6,189.2 202.5,191.8 C196.4,194.4 190.1,195.0 184.2,195.7 C178.3,196.5 173.2,196.3 167.1,196.4 C161.0,196.5 150.7,197.6 147.5,196.4 C144.2,195.2 144.9,190.6 147.5,189.4 C150.0,188.2 156.6,189.3 162.8,189.0 C168.9,188.7 177.5,188.9 184.2,187.7 C190.8,186.4 197.1,184.1 202.5,181.3 C208.0,178.6 212.3,176.2 216.9,171.3 C221.6,166.4 226.4,158.7 230.5,151.8 C234.6,144.9 238.3,138.0 241.4,130.0 C244.5,122.0 247.5,111.3 249.0,103.8 C250.6,96.2 247.8,84.8 250.6,84.5 C253.4,84.3 264.5,97.0 265.9,102.0Z" fill="#54a8b6"/>
<path transform="translate(14.5,0) scale(1.0,1.03)" d="M139.8,140.5 C141.6,138.5 143.3,136.5 156.2,140.9 C169.1,145.3 209.4,160.8 217.4,167.1 C225.4,173.5 207.9,176.3 204.3,179.1 C200.6,182.0 199.5,182.7 195.5,184.2 C191.5,185.6 185.7,187.0 180.2,187.9 C174.8,188.7 168.2,189.0 162.8,189.4 C157.3,189.8 149.7,192.2 147.5,190.3 C145.2,188.4 148.8,181.9 149.2,178.0 C149.6,174.2 150.2,171.3 149.6,167.1 C149.1,162.9 147.4,157.4 145.7,152.9 C144.1,148.5 138.1,142.5 139.8,140.5Z" fill="#050505" stroke="#050505" stroke-width="2"/>
<path transform="translate(14.5,0) scale(1.0,1.03)" d="M160.6,73.2 C163.0,69.4 167.8,67.5 173.7,65.5 C179.5,63.5 188.2,61.6 195.5,61.2 C202.8,60.7 210.6,61.4 217.4,62.7 C224.1,64.0 230.5,65.3 235.9,68.8 C241.4,72.3 247.8,77.8 250.1,83.7 C252.4,89.5 251.0,96.4 249.7,103.8 C248.4,111.1 245.5,120.2 242.5,127.8 C239.5,135.4 235.8,143.2 231.6,149.6 C227.4,156.1 222.3,162.2 217.4,166.7 C212.5,171.2 207.5,174.5 202.1,176.7 C196.6,179.0 190.1,180.2 184.6,180.0 C179.1,179.8 173.7,178.4 169.3,175.4 C164.9,172.4 160.9,166.9 158.4,161.9 C155.9,156.9 154.6,150.6 154.5,145.3 C154.3,140.0 155.6,134.9 157.3,130.0 C159.0,125.1 164.0,120.2 164.5,115.8 C165.0,111.4 161.5,108.3 160.6,103.8 C159.6,99.2 158.8,93.6 158.8,88.5 C158.8,83.4 158.1,77.0 160.6,73.2Z" fill="#a01008" stroke="#000" stroke-width="3"/>
<path transform="translate(14.5,0) scale(1.0,1.03)" d="M109.9,113.8 L134.4,116.9 L163.2,118.6 L158.8,130.0 L154.5,140.9 L139.8,140.5 L125.6,128.9Z" fill="#cdcdca" stroke="#000" stroke-width="2.8"/>
<path transform="translate(14.5,0) scale(1.0,1.03)" d="M100.5,110.3 L130.0,89.6 L160.6,73.6 L158.8,88.5 L160.6,103.8 L164.5,115.8 L134.4,114.7 L108.1,112.5Z" fill="#d0d0cd" stroke="#000" stroke-width="2.8"/>
<circle cx="212.2" cy="108.2" r="12.2" fill="#a01008" stroke="#f4d8d0" stroke-width="1.5"/>
<circle cx="212.2" cy="108.2" r="8.4" fill="#0a0a0a"/>
<circle cx="216.6" cy="109.2" r="2.2" fill="#e8e8e8"/>
</g>
<clipPath id="c4"><rect x="0" y="0" width="356.5" height="320.0"/></clipPath>
<g transform="translate(1921.3,911.7)" clip-path="url(#c4)" stroke-linejoin="round" stroke-linecap="round">
<rect x="0" y="0" width="356.5" height="320.0" fill="url(#gbg)" filter="url(#mottle)"/>
<path transform="translate(14.5,0) scale(1.0,1.03)" d="M250.1,83.7 Q302.3,131.4 344.7,200.0 L429.5,337.2 L429.5,420 L139.8,420 L137.8,313.5 L133.5,282.9 L132.6,256.7 L135.4,230.5 L142.0,208.6 L147.5,194.2 L149.6,169.3 L195.5,125.6Z" fill="#1a6410" stroke="#000" stroke-width="2.6"/>
<clipPath id="b4"><path transform="translate(14.5,0) scale(1.0,1.03)" d="M250.1,83.7 Q302.3,131.4 344.7,200.0 L429.5,337.2 L429.5,420 L139.8,420 L137.8,313.5 L133.5,282.9 L132.6,256.7 L135.4,230.5 L142.0,208.6 L147.5,194.2 L149.6,169.3 L195.5,125.6Z"/></clipPath>
<g clip-path="url(#b4)"><path transform="translate(14.5,0) scale(1.0,1.03)" d="M254.5,68.8 C268.0,78.3 328.8,150.8 335.3,164.9 C341.9,179.1 306.2,154.2 293.8,153.6 C281.4,152.9 270.5,158.2 261.1,161.0 C251.6,163.8 243.6,167.2 237.0,170.4 C230.5,173.6 227.6,176.5 221.7,180.2 C215.9,184.0 208.3,189.9 202.1,192.9 C195.9,195.9 190.1,197.9 184.6,198.1 C179.1,198.4 167.5,195.8 169.3,194.6 C171.1,193.5 188.2,193.6 195.5,191.2 C202.8,188.7 207.5,184.6 213.0,180.2 C218.5,175.9 223.9,170.4 228.3,164.9 C232.7,159.5 235.9,154.0 239.2,147.5 C242.5,140.9 245.4,132.2 248.0,125.6 C250.5,119.1 253.4,117.6 254.5,108.1 C255.6,98.7 241.0,59.3 254.5,68.8Z" fill="#3e8a0c" filter="url(#soft)"/></g>
<path transform="translate(14.5,0) scale(1.0,1.03)" d="M250.1,83.7 Q302.3,131.4 344.7,200.0 L429.5,337.2" fill="none" stroke="#000" stroke-width="2.6"/>
<path transform="translate(14.5,0) scale(1.0,1.03)" d="M147.5,194.2 C142.9,196.5 144.0,202.6 142.0,208.6 C140.0,214.7 137.0,222.5 135.4,230.5 C133.9,238.5 132.9,248.0 132.6,256.7 C132.3,265.4 132.6,273.4 133.5,282.9 C134.4,292.4 136.8,303.3 137.8,313.5 C138.9,323.7 128.0,339.0 139.8,344.1 C151.6,349.2 197.3,349.2 208.6,344.1 C220.0,339.0 208.2,322.6 207.8,313.5 C207.3,304.4 206.0,297.1 206.0,289.5 C206.0,281.8 206.6,274.9 207.5,267.6 C208.5,260.3 212.5,252.0 211.9,245.8 C211.4,239.6 207.4,235.6 204.3,230.5 C201.2,225.4 197.3,219.9 193.3,215.2 C189.3,210.4 184.2,205.4 180.2,202.1 C176.2,198.7 174.8,196.4 169.3,195.1 C163.8,193.8 152.0,192.0 147.5,194.2Z" fill="#2e1466" stroke="#000" stroke-width="2.6"/>
<path transform="translate(14.5,0) scale(1.0,1.03)" d="M211.9,245.8 C212.6,244.5 214.5,240.1 216.3,238.1 C218.1,236.1 220.3,235.0 222.8,233.8 C225.4,232.5 230.1,231.0 231.6,230.5" fill="none" stroke="#000" stroke-width="2.4"/>
<path transform="translate(14.5,0) scale(1.0,1.03)" d="M265.9,102.0 C267.2,107.1 261.9,108.5 258.9,114.9 C255.9,121.3 251.9,132.6 248.0,140.5 C244.0,148.4 239.8,155.7 235.3,162.3 C230.7,168.9 226.1,175.3 220.6,180.2 C215.2,185.1 208.6,189.2 202.5,191.8 C196.4,194.4 190.1,195.0 184.2,195.7 C178.3,196.5 173.2,196.3 167.1,196.4 C161.0,196.5 150.7,197.6 147.5,196.4 C144.2,195.2 144.9,190.6 147.5,189.4 C150.0,188.2 156.6,189.3 162.8,189.0 C168.9,188.7 177.5,188.9 184.2,187.7 C190.8,186.4 197.1,184.1 202.5,181.3 C208.0,178.6 212.3,176.2 216.9,171.3 C221.6,166.4 226.4,158.7 230.5,151.8 C234.6,144.9 238.3,138.0 241.4,130.0 C244.5,122.0 247.5,111.3 249.0,103.8 C250.6,96.2 247.8,84.8 250.6,84.5 C253.4,84.3 264.5,97.0 265.9,102.0Z" fill="#54a8b6"/>
<path transform="translate(14.5,0) scale(1.0,1.03)" d="M139.8,140.5 C141.6,138.5 143.3,136.5 156.2,140.9 C169.1,145.3 209.4,160.8 217.4,167.1 C225.4,173.5 207.9,176.3 204.3,179.1 C200.6,182.0 199.5,182.7 195.5,184.2 C191.5,185.6 185.7,187.0 180.2,187.9 C174.8,188.7 168.2,189.0 162.8,189.4 C157.3,189.8 149.7,192.2 147.5,190.3 C145.2,188.4 148.8,181.9 149.2,178.0 C149.6,174.2 150.2,171.3 149.6,167.1 C149.1,162.9 147.4,157.4 145.7,152.9 C144.1,148.5 138.1,142.5 139.8,140.5Z" fill="#050505" stroke="#050505" stroke-width="2"/>
<path transform="translate(14.5,0) scale(1.0,1.03)" d="M160.6,73.2 C163.0,69.4 167.8,67.5 173.7,65.5 C179.5,63.5 188.2,61.6 195.5,61.2 C202.8,60.7 210.6,61.4 217.4,62.7 C224.1,64.0 230.5,65.3 235.9,68.8 C241.4,72.3 247.8,77.8 250.1,83.7 C252.4,89.5 251.0,96.4 249.7,103.8 C248.4,111.1 245.5,120.2 242.5,127.8 C239.5,135.4 235.8,143.2 231.6,149.6 C227.4,156.1 222.3,162.2 217.4,166.7 C212.5,171.2 207.5,174.5 202.1,176.7 C196.6,179.0 190.1,180.2 184.6,180.0 C179.1,179.8 173.7,178.4 169.3,175.4 C164.9,172.4 160.9,166.9 158.4,161.9 C155.9,156.9 154.6,150.6 154.5,145.3 C154.3,140.0 155.6,134.9 157.3,130.0 C159.0,125.1 164.0,120.2 164.5,115.8 C165.0,111.4 161.5,108.3 160.6,103.8 C159.6,99.2 158.8,93.6 158.8,88.5 C158.8,83.4 158.1,77.0 160.6,73.2Z" fill="#a01008" stroke="#000" stroke-width="3"/>
<path transform="translate(14.5,0) scale(1.0,1.03)" d="M109.9,113.8 L134.4,116.9 L163.2,118.6 L158.8,130.0 L154.5,140.9 L139.8,140.5 L125.6,128.9Z" fill="#cdcdca" stroke="#000" stroke-width="2.8"/>
<path transform="translate(14.5,0) scale(1.0,1.03)" d="M100.5,110.3 L130.0,89.6 L160.6,73.6 L158.8,88.5 L160.6,103.8 L164.5,115.8 L134.4,114.7 L108.1,112.5Z" fill="#d0d0cd" stroke="#000" stroke-width="2.8"/>
<circle cx="212.2" cy="108.2" r="12.2" fill="#a01008" stroke="#f4d8d0" stroke-width="1.5"/>
<circle cx="212.2" cy="108.2" r="8.4" fill="#0a0a0a"/>
<circle cx="216.6" cy="109.2" r="2.2" fill="#e8e8e8"/>
</g>
<clipPath id="c5"><rect x="0" y="0" width="347.0" height="311.0"/></clipPath>
<g transform="translate(2656.8,913.3)" clip-path="url(#c5)" stroke-linejoin="round" stroke-linecap="round">
<rect x="0" y="0" width="347.0" height="311.0" fill="url(#gbg)" filter="url(#mottle)"/>
<path transform="translate(0,0) scale(1.0,1.0)" d="M250.1,83.7 Q302.3,131.4 344.7,200.0 L429.5,337.2 L429.5,420 L139.8,420 L137.8,313.5 L133.5,282.9 L132.6,256.7 L135.4,230.5 L142.0,208.6 L147.5,194.2 L149.6,169.3 L195.5,125.6Z" fill="#1a6410" stroke="#000" stroke-width="2.6"/>
<clipPath id="b5"><path transform="translate(0,0) scale(1.0,1.0)" d="M250.1,83.7 Q302.3,131.4 344.7,200.0 L429.5,337.2 L429.5,420 L139.8,420 L137.8,313.5 L133.5,282.9 L132.6,256.7 L135.4,230.5 L142.0,208.6 L147.5,194.2 L149.6,169.3 L195.5,125.6Z"/></clipPath>
<g clip-path="url(#b5)"><path transform="translate(0,0) scale(1.0,1.0)" d="M254.5,68.8 C268.0,78.3 328.8,150.8 335.3,164.9 C341.9,179.1 306.2,154.2 293.8,153.6 C281.4,152.9 270.5,158.2 261.1,161.0 C251.6,163.8 243.6,167.2 237.0,170.4 C230.5,173.6 227.6,176.5 221.7,180.2 C215.9,184.0 208.3,189.9 202.1,192.9 C195.9,195.9 190.1,197.9 184.6,198.1 C179.1,198.4 167.5,195.8 169.3,194.6 C171.1,193.5 188.2,193.6 195.5,191.2 C202.8,188.7 207.5,184.6 213.0,180.2 C218.5,175.9 223.9,170.4 228.3,164.9 C232.7,159.5 235.9,154.0 239.2,147.5 C242.5,140.9 245.4,132.2 248.0,125.6 C250.5,119.1 253.4,117.6 254.5,108.1 C255.6,98.7 241.0,59.3 254.5,68.8Z" fill="#3e8a0c" filter="url(#soft)"/></g>
<path transform="translate(0,0) scale(1.0,1.0)" d="M250.1,83.7 Q302.3,131.4 344.7,200.0 L429.5,337.2" fill="none" stroke="#000" stroke-width="2.6"/>
<path transform="translate(0,0) scale(1.0,1.0)" d="M147.5,194.2 C142.9,196.5 144.0,202.6 142.0,208.6 C140.0,214.7 137.0,222.5 135.4,230.5 C133.9,238.5 132.9,248.0 132.6,256.7 C132.3,265.4 132.6,273.4 133.5,282.9 C134.4,292.4 136.8,303.3 137.8,313.5 C138.9,323.7 128.0,339.0 139.8,344.1 C151.6,349.2 197.3,349.2 208.6,344.1 C220.0,339.0 208.2,322.6 207.8,313.5 C207.3,304.4 206.0,297.1 206.0,289.5 C206.0,281.8 206.6,274.9 207.5,267.6 C208.5,260.3 212.5,252.0 211.9,245.8 C211.4,239.6 207.4,235.6 204.3,230.5 C201.2,225.4 197.3,219.9 193.3,215.2 C189.3,210.4 184.2,205.4 180.2,202.1 C176.2,198.7 174.8,196.4 169.3,195.1 C163.8,193.8 152.0,192.0 147.5,194.2Z" fill="#2e1466" stroke="#000" stroke-width="2.6"/>
<path transform="translate(0,0) scale(1.0,1.0)" d="M211.9,245.8 C212.6,244.5 214.5,240.1 216.3,238.1 C218.1,236.1 220.3,235.0 222.8,233.8 C225.4,232.5 230.1,231.0 231.6,230.5" fill="none" stroke="#000" stroke-width="2.4"/>
<path transform="translate(0,0) scale(1.0,1.0)" d="M265.9,102.0 C267.2,107.1 261.9,108.5 258.9,114.9 C255.9,121.3 251.9,132.6 248.0,140.5 C244.0,148.4 239.8,155.7 235.3,162.3 C230.7,168.9 226.1,175.3 220.6,180.2 C215.2,185.1 208.6,189.2 202.5,191.8 C196.4,194.4 190.1,195.0 184.2,195.7 C178.3,196.5 173.2,196.3 167.1,196.4 C161.0,196.5 150.7,197.6 147.5,196.4 C144.2,195.2 144.9,190.6 147.5,189.4 C150.0,188.2 156.6,189.3 162.8,189.0 C168.9,188.7 177.5,188.9 184.2,187.7 C190.8,186.4 197.1,184.1 202.5,181.3 C208.0,178.6 212.3,176.2 216.9,171.3 C221.6,166.4 226.4,158.7 230.5,151.8 C234.6,144.9 238.3,138.0 241.4,130.0 C244.5,122.0 247.5,111.3 249.0,103.8 C250.6,96.2 247.8,84.8 250.6,84.5 C253.4,84.3 264.5,97.0 265.9,102.0Z" fill="#54a8b6"/>
<path transform="translate(0,0) scale(1.0,1.0)" d="M139.8,140.5 C141.6,138.5 143.3,136.5 156.2,140.9 C169.1,145.3 209.4,160.8 217.4,167.1 C225.4,173.5 207.9,176.3 204.3,179.1 C200.6,182.0 199.5,182.7 195.5,184.2 C191.5,185.6 185.7,187.0 180.2,187.9 C174.8,188.7 168.2,189.0 162.8,189.4 C157.3,189.8 149.7,192.2 147.5,190.3 C145.2,188.4 148.8,181.9 149.2,178.0 C149.6,174.2 150.2,171.3 149.6,167.1 C149.1,162.9 147.4,157.4 145.7,152.9 C144.1,148.5 138.1,142.5 139.8,140.5Z" fill="#050505" stroke="#050505" stroke-width="2"/>
<path transform="translate(0,0) scale(1.0,1.0)" d="M160.6,73.2 C163.0,69.4 167.8,67.5 173.7,65.5 C179.5,63.5 188.2,61.6 195.5,61.2 C202.8,60.7 210.6,61.4 217.4,62.7 C224.1,64.0 230.5,65.3 235.9,68.8 C241.4,72.3 247.8,77.8 250.1,83.7 C252.4,89.5 251.0,96.4 249.7,103.8 C248.4,111.1 245.5,120.2 242.5,127.8 C239.5,135.4 235.8,143.2 231.6,149.6 C227.4,156.1 222.3,162.2 217.4,166.7 C212.5,171.2 207.5,174.5 202.1,176.7 C196.6,179.0 190.1,180.2 184.6,180.0 C179.1,179.8 173.7,178.4 169.3,175.4 C164.9,172.4 160.9,166.9 158.4,161.9 C155.9,156.9 154.6,150.6 154.5,145.3 C154.3,140.0 155.6,134.9 157.3,130.0 C159.0,125.1 164.0,120.2 164.5,115.8 C165.0,111.4 161.5,108.3 160.6,103.8 C159.6,99.2 158.8,93.6 158.8,88.5 C158.8,83.4 158.1,77.0 160.6,73.2Z" fill="#de4806" stroke="#000" stroke-width="3"/>
<path transform="translate(0,0) scale(1.0,1.0)" d="M109.9,113.8 L134.4,116.9 L163.2,118.6 L158.8,130.0 L154.5,140.9 L139.8,140.5 L125.6,128.9Z" fill="#cdcdca" stroke="#000" stroke-width="2.8"/>
<path transform="translate(0,0) scale(1.0,1.0)" d="M100.5,110.3 L130.0,89.6 L160.6,73.6 L158.8,88.5 L160.6,103.8 L164.5,115.8 L134.4,114.7 L108.1,112.5Z" fill="#d0d0cd" stroke="#000" stroke-width="2.8"/>
<circle cx="197.7" cy="105.1" r="10.6" fill="#0a0a0a" stroke="#f3e6c0" stroke-width="1.6"/>
<circle cx="202.1" cy="106.1" r="2.2" fill="#e8e8e8"/>
</g>
<clipPath id="c6"><rect x="0" y="0" width="343.0" height="320.0"/></clipPath>
<g transform="translate(1094.5,1276.5)" clip-path="url(#c6)" stroke-linejoin="round" stroke-linecap="round">
<rect x="0" y="0" width="343.0" height="320.0" fill="url(#gbg)" filter="url(#mottle)"/>
<path transform="translate(-9.5,-7) scale(1.0,1.0)" d="M247.8,86.8 Q309.1,141.8 351.0,220.0 L434.8,376.4 L434.8,420 L139.8,420 L137.8,313.5 L133.5,282.9 L132.6,256.7 L135.4,230.5 L142.0,208.6 L147.5,194.2 L149.6,169.3 L195.5,125.6Z" fill="#1a6410" stroke="#000" stroke-width="2.6"/>
<clipPath id="b6"><path transform="translate(-9.5,-7) scale(1.0,1.0)" d="M247.8,86.8 Q309.1,141.8 351.0,220.0 L434.8,376.4 L434.8,420 L139.8,420 L137.8,313.5 L133.5,282.9 L132.6,256.7 L135.4,230.5 L142.0,208.6 L147.5,194.2 L149.6,169.3 L195.5,125.6Z"/></clipPath>
<g clip-path="url(#b6)"><path d="M246.0,58.0 C257.5,65.3 306.7,135.8 312.0,150.0 C317.3,164.2 288.8,142.9 277.8,142.9 C266.8,142.9 254.6,147.0 246.0,149.8 C237.4,152.7 231.3,156.5 226.0,160.0 C220.7,163.5 219.0,167.1 214.0,171.0 C209.0,174.9 201.7,180.6 196.0,183.5 C190.3,186.4 184.3,188.1 180.0,188.5 C175.7,188.9 168.3,187.8 170.0,186.0 C171.7,184.2 183.8,181.5 190.0,178.0 C196.2,174.5 201.8,170.3 207.0,165.0 C212.2,159.7 216.8,152.5 221.0,146.0 C225.2,139.5 228.3,132.7 232.0,126.0 C235.7,119.3 240.7,117.3 243.0,106.0 C245.3,94.7 234.5,50.7 246.0,58.0Z" fill="#3e8a0c" filter="url(#soft)"/></g>
<path transform="translate(-9.5,-7) scale(1.0,1.0)" d="M247.8,86.8 Q309.1,141.8 351.0,220.0 L434.8,376.4" fill="none" stroke="#000" stroke-width="2.6"/>
<path transform="translate(-9.5,-7) scale(1.0,1.0)" d="M147.5,194.2 C142.9,196.5 144.0,202.6 142.0,208.6 C140.0,214.7 137.0,222.5 135.4,230.5 C133.9,238.5 132.9,248.0 132.6,256.7 C132.3,265.4 132.6,273.4 133.5,282.9 C134.4,292.4 136.8,303.3 137.8,313.5 C138.9,323.7 128.0,339.0 139.8,344.1 C151.6,349.2 197.3,349.2 208.6,344.1 C220.0,339.0 208.2,322.6 207.8,313.5 C207.3,304.4 206.0,297.1 206.0,289.5 C206.0,281.8 206.6,274.9 207.5,267.6 C208.5,260.3 212.5,252.0 211.9,245.8 C211.4,239.6 207.4,235.6 204.3,230.5 C201.2,225.4 197.3,219.9 193.3,215.2 C189.3,210.4 184.2,205.4 180.2,202.1 C176.2,198.7 174.8,196.4 169.3,195.1 C163.8,193.8 152.0,192.0 147.5,194.2Z" fill="#2e1466" stroke="#000" stroke-width="2.6"/>
<path transform="translate(-9.5,-7) scale(1.0,1.0)" d="M211.9,245.8 C212.6,244.5 214.5,240.1 216.3,238.1 C218.1,236.1 220.3,235.0 222.8,233.8 C225.4,232.5 230.1,231.0 231.6,230.5" fill="none" stroke="#000" stroke-width="2.4"/>
<path d="M257.5,96.0 C258.9,100.3 250.6,100.0 246.5,105.0 C242.4,110.0 237.1,119.1 233.0,126.0 C228.9,132.9 226.2,139.6 221.8,146.5 C217.4,153.4 213.0,161.4 206.5,167.5 C200.0,173.6 190.8,179.7 183.0,183.3 C175.2,186.9 167.4,188.0 160.0,189.3 C152.6,190.6 142.1,191.9 138.5,191.2 C134.9,190.5 133.3,186.8 138.5,185.0 C143.7,183.2 160.9,182.9 169.5,180.5 C178.1,178.1 183.5,175.2 189.9,170.3 C196.3,165.4 202.1,158.8 207.7,151.2 C213.3,143.6 219.3,133.4 223.6,124.5 C227.8,115.6 230.8,105.6 233.2,98.0 C235.6,90.4 233.9,79.3 238.0,79.0 C242.1,78.7 256.1,91.7 257.5,96.0Z" fill="#54a8b6"/>
<path d="M149.1,64.5 C151.8,60.5 157.1,58.1 163.0,56.0 C168.9,53.9 177.8,52.2 184.8,51.8 C191.8,51.4 198.5,51.9 205.0,53.5 C211.5,55.1 218.4,57.1 224.0,61.5 C229.6,65.9 236.2,75.0 238.3,79.8 C240.4,84.5 237.3,86.9 236.5,90.0 C235.7,93.1 235.3,92.5 233.2,98.3 C231.0,104.1 227.8,116.2 223.6,125.1 C219.3,134.0 213.3,144.2 207.7,151.8 C202.1,159.4 196.3,166.0 189.9,170.9 C183.5,175.8 175.8,178.8 169.5,181.1 C163.2,183.4 157.1,183.8 152.0,184.5 C146.9,185.2 141.4,187.2 138.9,185.6 C136.4,184.0 137.0,179.6 137.0,175.0 C137.0,170.4 139.2,163.0 138.9,158.2 C138.7,153.4 136.8,149.9 135.5,146.0 C134.2,142.1 130.0,136.5 131.2,134.5 C132.4,132.5 140.1,136.4 142.7,134.0 C145.3,131.6 145.7,124.0 147.0,120.0 C148.3,116.0 150.2,114.0 150.3,109.8 C150.4,105.6 148.1,100.0 147.5,95.0 C146.9,90.0 146.2,85.1 146.5,80.0 C146.8,74.9 146.3,68.5 149.1,64.5Z" fill="#050505" stroke="#000" stroke-width="2.4"/>
<path transform="translate(-9.5,-7) scale(1.0,1.0)" d="M109.9,113.8 L134.4,116.9 L163.2,118.6 L158.8,130.0 L154.5,140.9 L139.8,140.5 L125.6,128.9Z" fill="#cdcdca" stroke="#000" stroke-width="2.8"/>
<path transform="translate(-9.5,-7) scale(1.0,1.0)" d="M100.5,110.3 L130.0,89.6 L160.6,73.6 L158.8,88.5 L160.6,103.8 L164.5,115.8 L134.4,114.7 L108.1,112.5Z" fill="#d0d0cd" stroke="#000" stroke-width="2.8"/>
<path transform="translate(-9.5,-7) scale(1.0,1.0)" d="M103.3,109.9 L113.6,102.5 L123.0,95.7 L121.2,103.8 L120.2,111.9Z" fill="#dc1c0c"/>
<path transform="translate(-9.5,-7) scale(1.0,1.0)" d="M100.5,110.3 L130.0,89.6 L160.6,73.6 L158.8,88.5 L160.6,103.8 L164.5,115.8 L134.4,114.7 L108.1,112.5Z" fill="none" stroke="#000" stroke-width="2.8"/>
<circle cx="188.6" cy="98.3" r="12.2" fill="#050505" stroke="#ffffff" stroke-width="1.7"/>
<circle cx="193.0" cy="99.3" r="2.2" fill="#e8e8e8"/>
</g>
<clipPath id="c7"><rect x="0" y="0" width="342.6" height="317.5"/></clipPath>
<g transform="translate(2082.7,1279.8)" clip-path="url(#c7)" stroke-linejoin="round" stroke-linecap="round">
<rect x="0" y="0" width="342.6" height="317.5" fill="url(#gbg)" filter="url(#mottle)"/>
<path transform="translate(-9.5,-7) scale(1.0,1.0)" d="M247.8,86.8 Q309.1,141.8 351.0,220.0 L434.8,376.4 L434.8,420 L139.8,420 L137.8,313.5 L133.5,282.9 L132.6,256.7 L135.4,230.5 L142.0,208.6 L147.5,194.2 L149.6,169.3 L195.5,125.6Z" fill="#1a6410" stroke="#000" stroke-width="2.6"/>
<clipPath id="b7"><path transform="translate(-9.5,-7) scale(1.0,1.0)" d="M247.8,86.8 Q309.1,141.8 351.0,220.0 L434.8,376.4 L434.8,420 L139.8,420 L137.8,313.5 L133.5,282.9 L132.6,256.7 L135.4,230.5 L142.0,208.6 L147.5,194.2 L149.6,169.3 L195.5,125.6Z"/></clipPath>
<g clip-path="url(#b7)"><path d="M246.0,58.0 C257.5,65.3 306.7,135.8 312.0,150.0 C317.3,164.2 288.8,142.9 277.8,142.9 C266.8,142.9 254.6,147.0 246.0,149.8 C237.4,152.7 231.3,156.5 226.0,160.0 C220.7,163.5 219.0,167.1 214.0,171.0 C209.0,174.9 201.7,180.6 196.0,183.5 C190.3,186.4 184.3,188.1 180.0,188.5 C175.7,188.9 168.3,187.8 170.0,186.0 C171.7,184.2 183.8,181.5 190.0,178.0 C196.2,174.5 201.8,170.3 207.0,165.0 C212.2,159.7 216.8,152.5 221.0,146.0 C225.2,139.5 228.3,132.7 232.0,126.0 C235.7,119.3 240.7,117.3 243.0,106.0 C245.3,94.7 234.5,50.7 246.0,58.0Z" fill="#3e8a0c" filter="url(#soft)"/></g>
<path transform="translate(-9.5,-7) scale(1.0,1.0)" d="M247.8,86.8 Q309.1,141.8 351.0,220.0 L434.8,376.4" fill="none" stroke="#000" stroke-width="2.6"/>
<path transform="translate(-9.5,-7) scale(1.0,1.0)" d="M147.5,194.2 C142.9,196.5 144.0,202.6 142.0,208.6 C140.0,214.7 137.0,222.5 135.4,230.5 C133.9,238.5 132.9,248.0 132.6,256.7 C132.3,265.4 132.6,273.4 133.5,282.9 C134.4,292.4 136.8,303.3 137.8,313.5 C138.9,323.7 128.0,339.0 139.8,344.1 C151.6,349.2 197.3,349.2 208.6,344.1 C220.0,339.0 208.2,322.6 207.8,313.5 C207.3,304.4 206.0,297.1 206.0,289.5 C206.0,281.8 206.6,274.9 207.5,267.6 C208.5,260.3 212.5,252.0 211.9,245.8 C211.4,239.6 207.4,235.6 204.3,230.5 C201.2,225.4 197.3,219.9 193.3,215.2 C189.3,210.4 184.2,205.4 180.2,202.1 C176.2,198.7 174.8,196.4 169.3,195.1 C163.8,193.8 152.0,192.0 147.5,194.2Z" fill="#2e1466" stroke="#000" stroke-width="2.6"/>
<path transform="translate(-9.5,-7) scale(1.0,1.0)" d="M211.9,245.8 C212.6,244.5 214.5,240.1 216.3,238.1 C218.1,236.1 220.3,235.0 222.8,233.8 C225.4,232.5 230.1,231.0 231.6,230.5" fill="none" stroke="#000" stroke-width="2.4"/>
<path d="M257.5,96.0 C258.9,100.3 250.6,100.0 246.5,105.0 C242.4,110.0 237.1,119.1 233.0,126.0 C228.9,132.9 226.2,139.6 221.8,146.5 C217.4,153.4 213.0,161.4 206.5,167.5 C200.0,173.6 190.8,179.7 183.0,183.3 C175.2,186.9 167.4,188.0 160.0,189.3 C152.6,190.6 142.1,191.9 138.5,191.2 C134.9,190.5 133.3,186.8 138.5,185.0 C143.7,183.2 160.9,182.9 169.5,180.5 C178.1,178.1 183.5,175.2 189.9,170.3 C196.3,165.4 202.1,158.8 207.7,151.2 C213.3,143.6 219.3,133.4 223.6,124.5 C227.8,115.6 230.8,105.6 233.2,98.0 C235.6,90.4 233.9,79.3 238.0,79.0 C242.1,78.7 256.1,91.7 257.5,96.0Z" fill="#54a8b6"/>
<path d="M149.1,64.5 C151.8,60.5 157.1,58.1 163.0,56.0 C168.9,53.9 177.8,52.2 184.8,51.8 C191.8,51.4 198.5,51.9 205.0,53.5 C211.5,55.1 218.4,57.1 224.0,61.5 C229.6,65.9 236.2,75.0 238.3,79.8 C240.4,84.5 237.3,86.9 236.5,90.0 C235.7,93.1 235.3,92.5 233.2,98.3 C231.0,104.1 227.8,116.2 223.6,125.1 C219.3,134.0 213.3,144.2 207.7,151.8 C202.1,159.4 196.3,166.0 189.9,170.9 C183.5,175.8 175.8,178.8 169.5,181.1 C163.2,183.4 157.1,183.8 152.0,184.5 C146.9,185.2 141.4,187.2 138.9,185.6 C136.4,184.0 137.0,179.6 137.0,175.0 C137.0,170.4 139.2,163.0 138.9,158.2 C138.7,153.4 136.8,149.9 135.5,146.0 C134.2,142.1 130.0,136.5 131.2,134.5 C132.4,132.5 140.1,136.4 142.7,134.0 C145.3,131.6 145.7,124.0 147.0,120.0 C148.3,116.0 150.2,114.0 150.3,109.8 C150.4,105.6 148.1,100.0 147.5,95.0 C146.9,90.0 146.2,85.1 146.5,80.0 C146.8,74.9 146.3,68.5 149.1,64.5Z" fill="#050505" stroke="#000" stroke-width="2.4"/>
<path transform="translate(-9.5,-7) scale(1.0,1.0)" d="M109.9,113.8 L134.4,116.9 L163.2,118.6 L158.8,130.0 L154.5,140.9 L139.8,140.5 L125.6,128.9Z" fill="#cdcdca" stroke="#000" stroke-width="2.8"/>
<path transform="translate(-9.5,-7) scale(1.0,1.0)" d="M100.5,110.3 L130.0,89.6 L160.6,73.6 L158.8,88.5 L160.6,103.8 L164.5,115.8 L134.4,114.7 L108.1,112.5Z" fill="#d0d0cd" stroke="#000" stroke-width="2.8"/>
<path transform="translate(-9.5,-7) scale(1.0,1.0)" d="M103.3,109.9 L113.6,102.5 L123.0,95.7 L121.2,103.8 L120.2,111.9Z" fill="#dc1c0c"/>
<path transform="translate(-9.5,-7) scale(1.0,1.0)" d="M100.5,110.3 L130.0,89.6 L160.6,73.6 L158.8,88.5 L160.6,103.8 L164.5,115.8 L134.4,114.7 L108.1,112.5Z" fill="none" stroke="#000" stroke-width="2.8"/>
<circle cx="188.6" cy="98.3" r="12.2" fill="#050505" stroke="#ffffff" stroke-width="1.7"/>
<circle cx="193.0" cy="99.3" r="2.2" fill="#e8e8e8"/>
</g>
<clipPath id="c8"><rect x="0" y="0" width="345.0" height="320.0"/></clipPath>
<g transform="translate(473.4,1822.8)" clip-path="url(#c8)" stroke-linejoin="round" stroke-linecap="round">
<rect x="0" y="0" width="345.0" height="320.0" fill="url(#gbg)" filter="url(#mottle)"/>
<path transform="translate(-9.5,-7) scale(1.0,1.0)" d="M247.8,86.8 Q309.1,141.8 351.0,220.0 L434.8,376.4 L434.8,420 L139.8,420 L137.8,313.5 L133.5,282.9 L132.6,256.7 L135.4,230.5 L142.0,208.6 L147.5,194.2 L149.6,169.3 L195.5,125.6Z" fill="#1a6410" stroke="#000" stroke-width="2.6"/>
<clipPath id="b8"><path transform="translate(-9.5,-7) scale(1.0,1.0)" d="M247.8,86.8 Q309.1,141.8 351.0,220.0 L434.8,376.4 L434.8,420 L139.8,420 L137.8,313.5 L133.5,282.9 L132.6,256.7 L135.4,230.5 L142.0,208.6 L147.5,194.2 L149.6,169.3 L195.5,125.6Z"/></clipPath>
<g clip-path="url(#b8)"><path d="M246.0,58.0 C257.5,65.3 306.7,135.8 312.0,150.0 C317.3,164.2 288.8,142.9 277.8,142.9 C266.8,142.9 254.6,147.0 246.0,149.8 C237.4,152.7 231.3,156.5 226.0,160.0 C220.7,163.5 219.0,167.1 214.0,171.0 C209.0,174.9 201.7,180.6 196.0,183.5 C190.3,186.4 184.3,188.1 180.0,188.5 C175.7,188.9 168.3,187.8 170.0,186.0 C171.7,184.2 183.8,181.5 190.0,178.0 C196.2,174.5 201.8,170.3 207.0,165.0 C212.2,159.7 216.8,152.5 221.0,146.0 C225.2,139.5 228.3,132.7 232.0,126.0 C235.7,119.3 240.7,117.3 243.0,106.0 C245.3,94.7 234.5,50.7 246.0,58.0Z" fill="#3e8a0c" filter="url(#soft)"/></g>
<path transform="translate(-9.5,-7) scale(1.0,1.0)" d="M247.8,86.8 Q309.1,141.8 351.0,220.0 L434.8,376.4" fill="none" stroke="#000" stroke-width="2.6"/>
<path transform="translate(-9.5,-7) scale(1.0,1.0)" d="M147.5,194.2 C142.9,196.5 144.0,202.6 142.0,208.6 C140.0,214.7 137.0,222.5 135.4,230.5 C133.9,238.5 132.9,248.0 132.6,256.7 C132.3,265.4 132.6,273.4 133.5,282.9 C134.4,292.4 136.8,303.3 137.8,313.5 C138.9,323.7 128.0,339.0 139.8,344.1 C151.6,349.2 197.3,349.2 208.6,344.1 C220.0,339.0 208.2,322.6 207.8,313.5 C207.3,304.4 206.0,297.1 206.0,289.5 C206.0,281.8 206.6,274.9 207.5,267.6 C208.5,260.3 212.5,252.0 211.9,245.8 C211.4,239.6 207.4,235.6 204.3,230.5 C201.2,225.4 197.3,219.9 193.3,215.2 C189.3,210.4 184.2,205.4 180.2,202.1 C176.2,198.7 174.8,196.4 169.3,195.1 C163.8,193.8 152.0,192.0 147.5,194.2Z" fill="#2e1466" stroke="#000" stroke-width="2.6"/>
<path transform="translate(-9.5,-7) scale(1.0,1.0)" d="M211.9,245.8 C212.6,244.5 214.5,240.1 216.3,238.1 C218.1,236.1 220.3,235.0 222.8,233.8 C225.4,232.5 230.1,231.0 231.6,230.5" fill="none" stroke="#000" stroke-width="2.4"/>
<path d="M257.5,96.0 C258.9,100.3 250.6,100.0 246.5,105.0 C242.4,110.0 237.1,119.1 233.0,126.0 C228.9,132.9 226.2,139.6 221.8,146.5 C217.4,153.4 213.0,161.4 206.5,167.5 C200.0,173.6 190.8,179.7 183.0,183.3 C175.2,186.9 167.4,188.0 160.0,189.3 C152.6,190.6 142.1,191.9 138.5,191.2 C134.9,190.5 133.3,186.8 138.5,185.0 C143.7,183.2 160.9,182.9 169.5,180.5 C178.1,178.1 183.5,175.2 189.9,170.3 C196.3,165.4 202.1,158.8 207.7,151.2 C213.3,143.6 219.3,133.4 223.6,124.5 C227.8,115.6 230.8,105.6 233.2,98.0 C235.6,90.4 233.9,79.3 238.0,79.0 C242.1,78.7 256.1,91.7 257.5,96.0Z" fill="#54a8b6"/>
<path d="M149.1,64.5 C151.8,60.5 157.1,58.1 163.0,56.0 C168.9,53.9 177.8,52.2 184.8,51.8 C191.8,51.4 198.5,51.9 205.0,53.5 C211.5,55.1 218.4,57.1 224.0,61.5 C229.6,65.9 236.2,75.0 238.3,79.8 C240.4,84.5 237.3,86.9 236.5,90.0 C235.7,93.1 235.3,92.5 233.2,98.3 C231.0,104.1 227.8,116.2 223.6,125.1 C219.3,134.0 213.3,144.2 207.7,151.8 C202.1,159.4 196.3,166.0 189.9,170.9 C183.5,175.8 175.8,178.8 169.5,181.1 C163.2,183.4 157.1,183.8 152.0,184.5 C146.9,185.2 141.4,187.2 138.9,185.6 C136.4,184.0 137.0,179.6 137.0,175.0 C137.0,170.4 139.2,163.0 138.9,158.2 C138.7,153.4 136.8,149.9 135.5,146.0 C134.2,142.1 130.0,136.5 131.2,134.5 C132.4,132.5 140.1,136.4 142.7,134.0 C145.3,131.6 145.7,124.0 147.0,120.0 C148.3,116.0 150.2,114.0 150.3,109.8 C150.4,105.6 148.1,100.0 147.5,95.0 C146.9,90.0 146.2,85.1 146.5,80.0 C146.8,74.9 146.3,68.5 149.1,64.5Z" fill="#050505" stroke="#000" stroke-width="2.4"/>
<path transform="translate(-9.5,-7) scale(1.0,1.0)" d="M109.9,113.8 L134.4,116.9 L163.2,118.6 L158.8,130.0 L154.5,140.9 L139.8,140.5 L125.6,128.9Z" fill="#cdcdca" stroke="#000" stroke-width="2.8"/>
<path transform="translate(-9.5,-7) scale(1.0,1.0)" d="M100.5,110.3 L130.0,89.6 L160.6,73.6 L158.8,88.5 L160.6,103.8 L164.5,115.8 L134.4,114.7 L108.1,112.5Z" fill="#d0d0cd" stroke="#000" stroke-width="2.8"/>
<path transform="translate(-9.5,-7) scale(1.0,1.0)" d="M103.3,109.9 L113.6,102.5 L123.0,95.7 L121.2,103.8 L120.2,111.9Z" fill="#dc1c0c"/>
<path transform="translate(-9.5,-7) scale(1.0,1.0)" d="M100.5,110.3 L130.0,89.6 L160.6,73.6 L158.8,88.5 L160.6,103.8 L164.5,115.8 L134.4,114.7 L108.1,112.5Z" fill="none" stroke="#000" stroke-width="2.8"/>
<circle cx="188.6" cy="98.3" r="12.2" fill="#050505" stroke="#ffffff" stroke-width="1.7"/>
<circle cx="193.0" cy="99.3" r="2.2" fill="#e8e8e8"/>
</g>
<clipPath id="c9"><rect x="0" y="0" width="344.0" height="320.0"/></clipPath>
<g transform="translate(1186.4,1824.5)" clip-path="url(#c9)" stroke-linejoin="round" stroke-linecap="round">
<rect x="0" y="0" width="344.0" height="320.0" fill="url(#gbg)" filter="url(#mottle)"/>
<path transform="translate(-9.5,-7) scale(1.0,1.0)" d="M247.8,86.8 Q309.1,141.8 351.0,220.0 L434.8,376.4 L434.8,420 L139.8,420 L137.8,313.5 L133.5,282.9 L132.6,256.7 L135.4,230.5 L142.0,208.6 L147.5,194.2 L149.6,169.3 L195.5,125.6Z" fill="#1a6410" stroke="#000" stroke-width="2.6"/>
<clipPath id="b9"><path transform="translate(-9.5,-7) scale(1.0,1.0)" d="M247.8,86.8 Q309.1,141.8 351.0,220.0 L434.8,376.4 L434.8,420 L139.8,420 L137.8,313.5 L133.5,282.9 L132.6,256.7 L135.4,230.5 L142.0,208.6 L147.5,194.2 L149.6,169.3 L195.5,125.6Z"/></clipPath>
<g clip-path="url(#b9)"><path d="M246.0,58.0 C257.5,65.3 306.7,135.8 312.0,150.0 C317.3,164.2 288.8,142.9 277.8,142.9 C266.8,142.9 254.6,147.0 246.0,149.8 C237.4,152.7 231.3,156.5 226.0,160.0 C220.7,163.5 219.0,167.1 214.0,171.0 C209.0,174.9 201.7,180.6 196.0,183.5 C190.3,186.4 184.3,188.1 180.0,188.5 C175.7,188.9 168.3,187.8 170.0,186.0 C171.7,184.2 183.8,181.5 190.0,178.0 C196.2,174.5 201.8,170.3 207.0,165.0 C212.2,159.7 216.8,152.5 221.0,146.0 C225.2,139.5 228.3,132.7 232.0,126.0 C235.7,119.3 240.7,117.3 243.0,106.0 C245.3,94.7 234.5,50.7 246.0,58.0Z" fill="#3e8a0c" filter="url(#soft)"/></g>
<path transform="translate(-9.5,-7) scale(1.0,1.0)" d="M247.8,86.8 Q309.1,141.8 351.0,220.0 L434.8,376.4" fill="none" stroke="#000" stroke-width="2.6"/>
<path transform="translate(-9.5,-7) scale(1.0,1.0)" d="M147.5,194.2 C142.9,196.5 144.0,202.6 142.0,208.6 C140.0,214.7 137.0,222.5 135.4,230.5 C133.9,238.5 132.9,248.0 132.6,256.7 C132.3,265.4 132.6,273.4 133.5,282.9 C134.4,292.4 136.8,303.3 137.8,313.5 C138.9,323.7 128.0,339.0 139.8,344.1 C151.6,349.2 197.3,349.2 208.6,344.1 C220.0,339.0 208.2,322.6 207.8,313.5 C207.3,304.4 206.0,297.1 206.0,289.5 C206.0,281.8 206.6,274.9 207.5,267.6 C208.5,260.3 212.5,252.0 211.9,245.8 C211.4,239.6 207.4,235.6 204.3,230.5 C201.2,225.4 197.3,219.9 193.3,215.2 C189.3,210.4 184.2,205.4 180.2,202.1 C176.2,198.7 174.8,196.4 169.3,195.1 C163.8,193.8 152.0,192.0 147.5,194.2Z" fill="#2e1466" stroke="#000" stroke-width="2.6"/>
<path transform="translate(-9.5,-7) scale(1.0,1.0)" d="M211.9,245.8 C212.6,244.5 214.5,240.1 216.3,238.1 C218.1,236.1 220.3,235.0 222.8,233.8 C225.4,232.5 230.1,231.0 231.6,230.5" fill="none" stroke="#000" stroke-width="2.4"/>
<path d="M257.5,96.0 C258.9,100.3 250.6,100.0 246.5,105.0 C242.4,110.0 237.1,119.1 233.0,126.0 C228.9,132.9 226.2,139.6 221.8,146.5 C217.4,153.4 213.0,161.4 206.5,167.5 C200.0,173.6 190.8,179.7 183.0,183.3 C175.2,186.9 167.4,188.0 160.0,189.3 C152.6,190.6 142.1,191.9 138.5,191.2 C134.9,190.5 133.3,186.8 138.5,185.0 C143.7,183.2 160.9,182.9 169.5,180.5 C178.1,178.1 183.5,175.2 189.9,170.3 C196.3,165.4 202.1,158.8 207.7,151.2 C213.3,143.6 219.3,133.4 223.6,124.5 C227.8,115.6 230.8,105.6 233.2,98.0 C235.6,90.4 233.9,79.3 238.0,79.0 C242.1,78.7 256.1,91.7 257.5,96.0Z" fill="#54a8b6"/>
<path d="M149.1,64.5 C151.8,60.5 157.1,58.1 163.0,56.0 C168.9,53.9 177.8,52.2 184.8,51.8 C191.8,51.4 198.5,51.9 205.0,53.5 C211.5,55.1 218.4,57.1 224.0,61.5 C229.6,65.9 236.2,75.0 238.3,79.8 C240.4,84.5 237.3,86.9 236.5,90.0 C235.7,93.1 235.3,92.5 233.2,98.3 C231.0,104.1 227.8,116.2 223.6,125.1 C219.3,134.0 213.3,144.2 207.7,151.8 C202.1,159.4 196.3,166.0 189.9,170.9 C183.5,175.8 175.8,178.8 169.5,181.1 C163.2,183.4 157.1,183.8 152.0,184.5 C146.9,185.2 141.4,187.2 138.9,185.6 C136.4,184.0 137.0,179.6 137.0,175.0 C137.0,170.4 139.2,163.0 138.9,158.2 C138.7,153.4 136.8,149.9 135.5,146.0 C134.2,142.1 130.0,136.5 131.2,134.5 C132.4,132.5 140.1,136.4 142.7,134.0 C145.3,131.6 145.7,124.0 147.0,120.0 C148.3,116.0 150.2,114.0 150.3,109.8 C150.4,105.6 148.1,100.0 147.5,95.0 C146.9,90.0 146.2,85.1 146.5,80.0 C146.8,74.9 146.3,68.5 149.1,64.5Z" fill="#050505" stroke="#000" stroke-width="2.4"/>
<path transform="translate(-9.5,-7) scale(1.0,1.0)" d="M109.9,113.8 L134.4,116.9 L163.2,118.6 L158.8,130.0 L154.5,140.9 L139.8,140.5 L125.6,128.9Z" fill="#cdcdca" stroke="#000" stroke-width="2.8"/>
<path transform="translate(-9.5,-7) scale(1.0,1.0)" d="M100.5,110.3 L130.0,89.6 L160.6,73.6 L158.8,88.5 L160.6,103.8 L164.5,115.8 L134.4,114.7 L108.1,112.5Z" fill="#d0d0cd" stroke="#000" stroke-width="2.8"/>
<path transform="translate(-9.5,-7) scale(1.0,1.0)" d="M103.3,109.9 L113.6,102.5 L123.0,95.7 L121.2,103.8 L120.2,111.9Z" fill="#dc1c0c"/>
<path transform="translate(-9.5,-7) scale(1.0,1.0)" d="M100.5,110.3 L130.0,89.6 L160.6,73.6 L158.8,88.5 L160.6,103.8 L164.5,115.8 L134.4,114.7 L108.1,112.5Z" fill="none" stroke="#000" stroke-width="2.8"/>
<circle cx="188.6" cy="98.3" r="12.2" fill="#050505" stroke="#ffffff" stroke-width="1.7"/>
<circle cx="193.0" cy="99.3" r="2.2" fill="#e8e8e8"/>
</g>
<clipPath id="c10"><rect x="0" y="0" width="344.0" height="320.0"/></clipPath>
<g transform="translate(1944.6,1825.7)" clip-path="url(#c10)" stroke-linejoin="round" stroke-linecap="round">
<rect x="0" y="0" width="344.0" height="320.0" fill="url(#gbg)" filter="url(#mottle)"/>
<path transform="translate(-9.5,-7) scale(1.0,1.0)" d="M247.8,86.8 Q309.1,141.8 351.0,220.0 L434.8,376.4 L434.8,420 L139.8,420 L137.8,313.5 L133.5,282.9 L132.6,256.7 L135.4,230.5 L142.0,208.6 L147.5,194.2 L149.6,169.3 L195.5,125.6Z" fill="#1a6410" stroke="#000" stroke-width="2.6"/>
<clipPath id="b10"><path transform="translate(-9.5,-7) scale(1.0,1.0)" d="M247.8,86.8 Q309.1,141.8 351.0,220.0 L434.8,376.4 L434.8,420 L139.8,420 L137.8,313.5 L133.5,282.9 L132.6,256.7 L135.4,230.5 L142.0,208.6 L147.5,194.2 L149.6,169.3 L195.5,125.6Z"/></clipPath>
<g clip-path="url(#b10)"><path d="M246.0,58.0 C257.5,65.3 306.7,135.8 312.0,150.0 C317.3,164.2 288.8,142.9 277.8,142.9 C266.8,142.9 254.6,147.0 246.0,149.8 C237.4,152.7 231.3,156.5 226.0,160.0 C220.7,163.5 219.0,167.1 214.0,171.0 C209.0,174.9 201.7,180.6 196.0,183.5 C190.3,186.4 184.3,188.1 180.0,188.5 C175.7,188.9 168.3,187.8 170.0,186.0 C171.7,184.2 183.8,181.5 190.0,178.0 C196.2,174.5 201.8,170.3 207.0,165.0 C212.2,159.7 216.8,152.5 221.0,146.0 C225.2,139.5 228.3,132.7 232.0,126.0 C235.7,119.3 240.7,117.3 243.0,106.0 C245.3,94.7 234.5,50.7 246.0,58.0Z" fill="#3e8a0c" filter="url(#soft)"/></g>
<path transform="translate(-9.5,-7) scale(1.0,1.0)" d="M247.8,86.8 Q309.1,141.8 351.0,220.0 L434.8,376.4" fill="none" stroke="#000" stroke-width="2.6"/>
<path transform="translate(-9.5,-7) scale(1.0,1.0)" d="M147.5,194.2 C142.9,196.5 144.0,202.6 142.0,208.6 C140.0,214.7 137.0,222.5 135.4,230.5 C133.9,238.5 132.9,248.0 132.6,256.7 C132.3,265.4 132.6,273.4 133.5,282.9 C134.4,292.4 136.8,303.3 137.8,313.5 C138.9,323.7 128.0,339.0 139.8,344.1 C151.6,349.2 197.3,349.2 208.6,344.1 C220.0,339.0 208.2,322.6 207.8,313.5 C207.3,304.4 206.0,297.1 206.0,289.5 C206.0,281.8 206.6,274.9 207.5,267.6 C208.5,260.3 212.5,252.0 211.9,245.8 C211.4,239.6 207.4,235.6 204.3,230.5 C201.2,225.4 197.3,219.9 193.3,215.2 C189.3,210.4 184.2,205.4 180.2,202.1 C176.2,198.7 174.8,196.4 169.3,195.1 C163.8,193.8 152.0,192.0 147.5,194.2Z" fill="#2e1466" stroke="#000" stroke-width="2.6"/>
<path transform="translate(-9.5,-7) scale(1.0,1.0)" d="M211.9,245.8 C212.6,244.5 214.5,240.1 216.3,238.1 C218.1,236.1 220.3,235.0 222.8,233.8 C225.4,232.5 230.1,231.0 231.6,230.5" fill="none" stroke="#000" stroke-width="2.4"/>
<path d="M257.5,96.0 C258.9,100.3 250.6,100.0 246.5,105.0 C242.4,110.0 237.1,119.1 233.0,126.0 C228.9,132.9 226.2,139.6 221.8,146.5 C217.4,153.4 213.0,161.4 206.5,167.5 C200.0,173.6 190.8,179.7 183.0,183.3 C175.2,186.9 167.4,188.0 160.0,189.3 C152.6,190.6 142.1,191.9 138.5,191.2 C134.9,190.5 133.3,186.8 138.5,185.0 C143.7,183.2 160.9,182.9 169.5,180.5 C178.1,178.1 183.5,175.2 189.9,170.3 C196.3,165.4 202.1,158.8 207.7,151.2 C213.3,143.6 219.3,133.4 223.6,124.5 C227.8,115.6 230.8,105.6 233.2,98.0 C235.6,90.4 233.9,79.3 238.0,79.0 C242.1,78.7 256.1,91.7 257.5,96.0Z" fill="#54a8b6"/>
<path d="M149.1,64.5 C151.8,60.5 157.1,58.1 163.0,56.0 C168.9,53.9 177.8,52.2 184.8,51.8 C191.8,51.4 198.5,51.9 205.0,53.5 C211.5,55.1 218.4,57.1 224.0,61.5 C229.6,65.9 236.2,75.0 238.3,79.8 C240.4,84.5 237.3,86.9 236.5,90.0 C235.7,93.1 235.3,92.5 233.2,98.3 C231.0,104.1 227.8,116.2 223.6,125.1 C219.3,134.0 213.3,144.2 207.7,151.8 C202.1,159.4 196.3,166.0 189.9,170.9 C183.5,175.8 175.8,178.8 169.5,181.1 C163.2,183.4 157.1,183.8 152.0,184.5 C146.9,185.2 141.4,187.2 138.9,185.6 C136.4,184.0 137.0,179.6 137.0,175.0 C137.0,170.4 139.2,163.0 138.9,158.2 C138.7,153.4 136.8,149.9 135.5,146.0 C134.2,142.1 130.0,136.5 131.2,134.5 C132.4,132.5 140.1,136.4 142.7,134.0 C145.3,131.6 145.7,124.0 147.0,120.0 C148.3,116.0 150.2,114.0 150.3,109.8 C150.4,105.6 148.1,100.0 147.5,95.0 C146.9,90.0 146.2,85.1 146.5,80.0 C146.8,74.9 146.3,68.5 149.1,64.5Z" fill="#050505" stroke="#000" stroke-width="2.4"/>
<path transform="translate(-9.5,-7) scale(1.0,1.0)" d="M109.9,113.8 L134.4,116.9 L163.2,118.6 L158.8,130.0 L154.5,140.9 L139.8,140.5 L125.6,128.9Z" fill="#cdcdca" stroke="#000" stroke-width="2.8"/>
<path transform="translate(-9.5,-7) scale(1.0,1.0)" d="M100.5,110.3 L130.0,89.6 L160.6,73.6 L158.8,88.5 L160.6,103.8 L164.5,115.8 L134.4,114.7 L108.1,112.5Z" fill="#d0d0cd" stroke="#000" stroke-width="2.8"/>
<path transform="translate(-9.5,-7) scale(1.0,1.0)" d="M103.3,109.9 L113.6,102.5 L123.0,95.7 L121.2,103.8 L120.2,111.9Z" fill="#dc1c0c"/>
<path transform="translate(-9.5,-7) scale(1.0,1.0)" d="M100.5,110.3 L130.0,89.6 L160.6,73.6 L158.8,88.5 L160.6,103.8 L164.5,115.8 L134.4,114.7 L108.1,112.5Z" fill="none" stroke="#000" stroke-width="2.8"/>
<circle cx="188.6" cy="98.3" r="12.2" fill="#050505" stroke="#ffffff" stroke-width="1.7"/>
<circle cx="193.0" cy="99.3" r="2.2" fill="#e8e8e8"/>
</g>
<clipPath id="c11"><rect x="0" y="0" width="344.5" height="319.3"/></clipPath>
<g transform="translate(2656.5,1827.4)" clip-path="url(#c11)" stroke-linejoin="round" stroke-linecap="round">
<rect x="0" y="0" width="344.5" height="319.3" fill="url(#gbg)" filter="url(#mottle)"/>
<path transform="translate(-9.5,-7) scale(1.0,1.0)" d="M247.8,86.8 Q309.1,141.8 351.0,220.0 L434.8,376.4 L434.8,420 L139.8,420 L137.8,313.5 L133.5,282.9 L132.6,256.7 L135.4,230.5 L142.0,208.6 L147.5,194.2 L149.6,169.3 L195.5,125.6Z" fill="#1a6410" stroke="#000" stroke-width="2.6"/>
<clipPath id="b11"><path transform="translate(-9.5,-7) scale(1.0,1.0)" d="M247.8,86.8 Q309.1,141.8 351.0,220.0 L434.8,376.4 L434.8,420 L139.8,420 L137.8,313.5 L133.5,282.9 L132.6,256.7 L135.4,230.5 L142.0,208.6 L147.5,194.2 L149.6,169.3 L195.5,125.6Z"/></clipPath>
<g clip-path="url(#b11)"><path d="M246.0,58.0 C257.5,65.3 306.7,135.8 312.0,150.0 C317.3,164.2 288.8,142.9 277.8,142.9 C266.8,142.9 254.6,147.0 246.0,149.8 C237.4,152.7 231.3,156.5 226.0,160.0 C220.7,163.5 219.0,167.1 214.0,171.0 C209.0,174.9 201.7,180.6 196.0,183.5 C190.3,186.4 184.3,188.1 180.0,188.5 C175.7,188.9 168.3,187.8 170.0,186.0 C171.7,184.2 183.8,181.5 190.0,178.0 C196.2,174.5 201.8,170.3 207.0,165.0 C212.2,159.7 216.8,152.5 221.0,146.0 C225.2,139.5 228.3,132.7 232.0,126.0 C235.7,119.3 240.7,117.3 243.0,106.0 C245.3,94.7 234.5,50.7 246.0,58.0Z" fill="#3e8a0c" filter="url(#soft)"/></g>
<path transform="translate(-9.5,-7) scale(1.0,1.0)" d="M247.8,86.8 Q309.1,141.8 351.0,220.0 L434.8,376.4" fill="none" stroke="#000" stroke-width="2.6"/>
<path transform="translate(-9.5,-7) scale(1.0,1.0)" d="M147.5,194.2 C142.9,196.5 144.0,202.6 142.0,208.6 C140.0,214.7 137.0,222.5 135.4,230.5 C133.9,238.5 132.9,248.0 132.6,256.7 C132.3,265.4 132.6,273.4 133.5,282.9 C134.4,292.4 136.8,303.3 137.8,313.5 C138.9,323.7 128.0,339.0 139.8,344.1 C151.6,349.2 197.3,349.2 208.6,344.1 C220.0,339.0 208.2,322.6 207.8,313.5 C207.3,304.4 206.0,297.1 206.0,289.5 C206.0,281.8 206.6,274.9 207.5,267.6 C208.5,260.3 212.5,252.0 211.9,245.8 C211.4,239.6 207.4,235.6 204.3,230.5 C201.2,225.4 197.3,219.9 193.3,215.2 C189.3,210.4 184.2,205.4 180.2,202.1 C176.2,198.7 174.8,196.4 169.3,195.1 C163.8,193.8 152.0,192.0 147.5,194.2Z" fill="#2e1466" stroke="#000" stroke-width="2.6"/>
<path transform="translate(-9.5,-7) scale(1.0,1.0)" d="M211.9,245.8 C212.6,244.5 214.5,240.1 216.3,238.1 C218.1,236.1 220.3,235.0 222.8,233.8 C225.4,232.5 230.1,231.0 231.6,230.5" fill="none" stroke="#000" stroke-width="2.4"/>
<path d="M257.5,96.0 C258.9,100.3 250.6,100.0 246.5,105.0 C242.4,110.0 237.1,119.1 233.0,126.0 C228.9,132.9 226.2,139.6 221.8,146.5 C217.4,153.4 213.0,161.4 206.5,167.5 C200.0,173.6 190.8,179.7 183.0,183.3 C175.2,186.9 167.4,188.0 160.0,189.3 C152.6,190.6 142.1,191.9 138.5,191.2 C134.9,190.5 133.3,186.8 138.5,185.0 C143.7,183.2 160.9,182.9 169.5,180.5 C178.1,178.1 183.5,175.2 189.9,170.3 C196.3,165.4 202.1,158.8 207.7,151.2 C213.3,143.6 219.3,133.4 223.6,124.5 C227.8,115.6 230.8,105.6 233.2,98.0 C235.6,90.4 233.9,79.3 238.0,79.0 C242.1,78.7 256.1,91.7 257.5,96.0Z" fill="#54a8b6"/>
<path d="M149.1,64.5 C151.8,60.5 157.1,58.1 163.0,56.0 C168.9,53.9 177.8,52.2 184.8,51.8 C191.8,51.4 198.5,51.9 205.0,53.5 C211.5,55.1 218.4,57.1 224.0,61.5 C229.6,65.9 236.2,75.0 238.3,79.8 C240.4,84.5 237.3,86.9 236.5,90.0 C235.7,93.1 235.3,92.5 233.2,98.3 C231.0,104.1 227.8,116.2 223.6,125.1 C219.3,134.0 213.3,144.2 207.7,151.8 C202.1,159.4 196.3,166.0 189.9,170.9 C183.5,175.8 175.8,178.8 169.5,181.1 C163.2,183.4 157.1,183.8 152.0,184.5 C146.9,185.2 141.4,187.2 138.9,185.6 C136.4,184.0 137.0,179.6 137.0,175.0 C137.0,170.4 139.2,163.0 138.9,158.2 C138.7,153.4 136.8,149.9 135.5,146.0 C134.2,142.1 130.0,136.5 131.2,134.5 C132.4,132.5 140.1,136.4 142.7,134.0 C145.3,131.6 145.7,124.0 147.0,120.0 C148.3,116.0 150.2,114.0 150.3,109.8 C150.4,105.6 148.1,100.0 147.5,95.0 C146.9,90.0 146.2,85.1 146.5,80.0 C146.8,74.9 146.3,68.5 149.1,64.5Z" fill="#050505" stroke="#000" stroke-width="2.4"/>
<path transform="translate(-9.5,-7) scale(1.0,1.0)" d="M109.9,113.8 L134.4,116.9 L163.2,118.6 L158.8,130.0 L154.5,140.9 L139.8,140.5 L125.6,128.9Z" fill="#cdcdca" stroke="#000" stroke-width="2.8"/>
<path transform="translate(-9.5,-7) scale(1.0,1.0)" d="M100.5,110.3 L130.0,89.6 L160.6,73.6 L158.8,88.5 L160.6,103.8 L164.5,115.8 L134.4,114.7 L108.1,112.5Z" fill="#d0d0cd" stroke="#000" stroke-width="2.8"/>
<path transform="translate(-9.5,-7) scale(1.0,1.0)" d="M103.3,109.9 L113.6,102.5 L123.0,95.7 L121.2,103.8 L120.2,111.9Z" fill="#dc1c0c"/>
<path transform="translate(-9.5,-7) scale(1.0,1.0)" d="M100.5,110.3 L130.0,89.6 L160.6,73.6 L158.8,88.5 L160.6,103.8 L164.5,115.8 L134.4,114.7 L108.1,112.5Z" fill="none" stroke="#000" stroke-width="2.8"/>
<circle cx="188.6" cy="98.3" r="12.2" fill="#050505" stroke="#ffffff" stroke-width="1.7"/>
<circle cx="193.0" cy="99.3" r="2.2" fill="#e8e8e8"/>
</g>
</g>
<ellipse cx="2459.6" cy="676.8" rx="33" ry="17.5" fill="#e6d606"/>
<ellipse cx="874.6" cy="1132" rx="33" ry="17.5" fill="#08080a"/>
<ellipse cx="1586" cy="1134" rx="33" ry="17.5" fill="#08080a"/>
<ellipse cx="1586" cy="1202" rx="33" ry="17.5" fill="#e6d606"/>
<ellipse cx="2321" cy="1202.8" rx="33" ry="17.5" fill="#e6d606"/>
<ellipse cx="1495.2" cy="1566.8" rx="33" ry="17.5" fill="#e6d606"/>
<ellipse cx="874.6" cy="2114" rx="33" ry="17.5" fill="#e6d606"/>
<ellipse cx="1586.5" cy="2116.8" rx="33" ry="17.5" fill="#e6d606"/>
<path d="M1370.9,726.5 C1370.9,757.9 1390.9,766.9 1432.9,766.9 L1725.5,766.9 C1763.5,766.9 1783.5,779.9 1787.5,808.2 C1791.5,779.9 1811.5,766.9 1849.5,766.9 L2142.8,766.9 C2184.8,766.9 2204.8,757.9 2204.8,727.5" fill="none" stroke="#0c0c14" stroke-width="3.4" stroke-linecap="round"/>
<path d="M1347.2,1619 C1347.2,1651 1367.2,1660 1409.2,1660 L1701,1660 C1739,1660 1759,1673 1763,1698.3 C1767,1673 1787,1660 1825,1660 L2119.8,1660 C2161.8,1660 2181.8,1651 2181.8,1620.2" fill="none" stroke="#0c0c14" stroke-width="3.4" stroke-linecap="round"/>
<path d="M1787.5,820.5 L848,903" fill="none" stroke="#0e0e16" stroke-width="9.6" stroke-linecap="round" stroke-dasharray="0 18.15"/>
<path d="M1787.5,820.5 L1552,924" fill="none" stroke="#0e0e16" stroke-width="9.6" stroke-linecap="round" stroke-dasharray="0 18.15"/>
<path d="M1840,847 L1932.5,908.3" fill="none" stroke="#0e0e16" stroke-width="9.6" stroke-linecap="round" stroke-dasharray="0 18.15"/>
<path d="M1787.5,820.5 L2610,907" fill="none" stroke="#0e0e16" stroke-width="9.6" stroke-linecap="round" stroke-dasharray="0 18.15"/>
<path d="M1763,1712 L798,1795.5" fill="none" stroke="#0e0e16" stroke-width="9.6" stroke-linecap="round" stroke-dasharray="0 18.15"/>
<path d="M1763,1712 L1505,1812.5" fill="none" stroke="#0e0e16" stroke-width="9.6" stroke-linecap="round" stroke-dasharray="0 18.15"/>
<path d="M1763,1712 L1972,1823" fill="none" stroke="#0e0e16" stroke-width="9.6" stroke-linecap="round" stroke-dasharray="0 18.15"/>
<path d="M1763,1712 L2644,1847" fill="none" stroke="#0e0e16" stroke-width="9.6" stroke-linecap="round" stroke-dasharray="0 18.15"/>
<circle cx="1784.3" cy="681.7" r="68.1" fill="#9ec3c4" stroke="#0a0a0a" stroke-width="3.9"/>
<path transform="translate(1771.4,709.3)" d="M20.2,0 L13.7,0 L13.7,-41.2 C10.2,-37.6 5.4,-35 1.2,-33.4 L0,-39.4 C6.4,-42.2 12.3,-46.6 15.9,-52.4 L20.2,-52.4 Z" fill="#0a0a0a"/>
<circle cx="1760.3" cy="1573.4" r="68.1" fill="#9ec3c4" stroke="#0a0a0a" stroke-width="3.9"/>
<text x="1760.3" y="1600.9" font-size="72" text-anchor="middle" fill="#0a0a0a">2</text>
<path transform="translate(947.0,762.0)" d="M20.2,0 L13.7,0 L13.7,-41.2 C10.2,-37.6 5.4,-35 1.2,-33.4 L0,-39.4 C6.4,-42.2 12.3,-46.6 15.9,-52.4 L20.2,-52.4 Z" fill="#0a0a0a"/>
<text x="979.2" y="762" font-size="72" fill="#0a0a0a">,</text>
<text x="999.2" y="762" font-size="72" fill="#0a0a0a">0</text>
<text x="1974.2" y="745" font-size="72" fill="#0a0a0a">0</text>
<text x="2014.2" y="745" font-size="72" fill="#0a0a0a">,</text>
<path transform="translate(2042.1,745.0)" d="M20.2,0 L13.7,0 L13.7,-41.2 C10.2,-37.6 5.4,-35 1.2,-33.4 L0,-39.4 C6.4,-42.2 12.3,-46.6 15.9,-52.4 L20.2,-52.4 Z" fill="#0a0a0a"/>
<path transform="translate(361.1,1107.2)" d="M20.2,0 L13.7,0 L13.7,-41.2 C10.2,-37.6 5.4,-35 1.2,-33.4 L0,-39.4 C6.4,-42.2 12.3,-46.6 15.9,-52.4 L20.2,-52.4 Z" fill="#0a0a0a"/>
<text x="393.3" y="1107.2" font-size="72" fill="#0a0a0a">,</text>
<text x="413.3" y="1107.2" font-size="72" fill="#0a0a0a">0</text>
<path transform="translate(1065.4,1107.5)" d="M20.2,0 L13.7,0 L13.7,-41.2 C10.2,-37.6 5.4,-35 1.2,-33.4 L0,-39.4 C6.4,-42.2 12.3,-46.6 15.9,-52.4 L20.2,-52.4 Z" fill="#0a0a0a"/>
<text x="1097.6" y="1107.5" font-size="72" fill="#0a0a0a">,</text>
<text x="1117.6" y="1107.5" font-size="72" fill="#0a0a0a">0</text>
<text x="1788.7" y="1110.8" font-size="72" fill="#0a0a0a">0</text>
<text x="1828.7" y="1110.8" font-size="72" fill="#0a0a0a">,</text>
<path transform="translate(1856.6,1110.8)" d="M20.2,0 L13.7,0 L13.7,-41.2 C10.2,-37.6 5.4,-35 1.2,-33.4 L0,-39.4 C6.4,-42.2 12.3,-46.6 15.9,-52.4 L20.2,-52.4 Z" fill="#0a0a0a"/>
<text x="2524.0" y="1110.8" font-size="72" fill="#0a0a0a">0</text>
<text x="2564.0" y="1110.8" font-size="72" fill="#0a0a0a">,</text>
<path transform="translate(2591.9,1110.8)" d="M20.2,0 L13.7,0 L13.7,-41.2 C10.2,-37.6 5.4,-35 1.2,-33.4 L0,-39.4 C6.4,-42.2 12.3,-46.6 15.9,-52.4 L20.2,-52.4 Z" fill="#0a0a0a"/>
</svg></body></html>
